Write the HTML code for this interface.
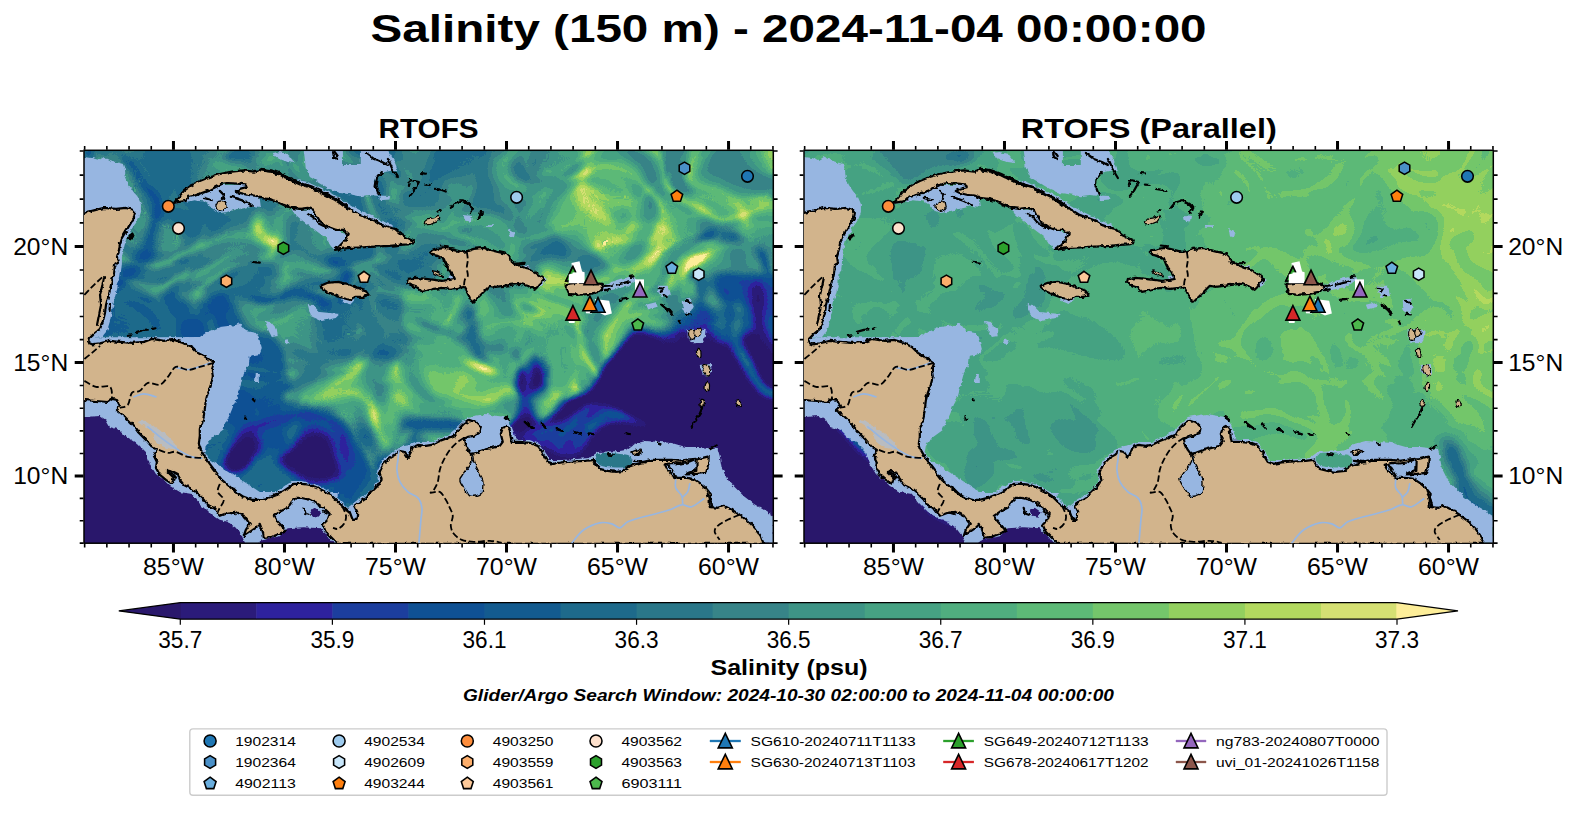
<!DOCTYPE html><html><head><meta charset="utf-8"><title>Salinity (150 m)</title>
<style>html,body{margin:0;padding:0;background:#fff}body{width:1577px;height:827px;overflow:hidden;font-family:"Liberation Sans",sans-serif}svg{display:block}text{font-family:"Liberation Sans",sans-serif;fill:#000}</style></head><body>
<svg width="1577" height="827" viewBox="0 0 1577 827">
<defs>
<clipPath id="cL"><rect x="84.0" y="150.3" width="689.3" height="392.9"/></clipPath>
<clipPath id="gtc"><path d="M560 255 L576 255 L581 272 L572 272.5 L568.4 274.6 L568.4 284 L560 284 Z"/></clipPath>
<clipPath id="cR"><rect x="804.0" y="150.3" width="689.3" height="392.9"/></clipPath>
<filter id="fL" filterUnits="userSpaceOnUse" x="24" y="90" width="810" height="514" color-interpolation-filters="sRGB"><feGaussianBlur in="SourceGraphic" stdDeviation="4" result="b"/><feTurbulence type="fractalNoise" baseFrequency="0.009 0.011" numOctaves="2" seed="7" result="n"/><feDisplacementMap in="b" in2="n" scale="70" xChannelSelector="R" yChannelSelector="G" result="d"/><feTurbulence type="turbulence" baseFrequency="0.014 0.018" numOctaves="2" seed="21" result="t"/><feDisplacementMap in="t" in2="n" scale="130" xChannelSelector="G" yChannelSelector="B" result="td"/><feGaussianBlur in="td" stdDeviation="1.0" result="tb0"/><feComponentTransfer in="tb0" result="tb"><feFuncR type="table" tableValues="0 0.1 0.2 0.3 0.38 0.43 0.45 0.45 0.45 0.45 0.45"/></feComponentTransfer><feColorMatrix in="tb" type="matrix" values="-0.962 0 0 0 0.992  -0.962 0 0 0 0.992  -0.962 0 0 0 0.992  0 0 0 0 1" result="ng"/><feComposite in="d" in2="ng" operator="arithmetic" k1="1.3" k2="0" k3="0" k4="0" result="s"/><feComponentTransfer><feFuncR type="discrete" tableValues="0.1647 0.1686 0.1804 0.1098 0.0588 0.0745 0.1176 0.1647 0.2157 0.2431 0.2745 0.3137 0.3647 0.4549 0.5765 0.7020 0.8353 0.9922"/><feFuncG type="discrete" tableValues="0.0941 0.1059 0.1333 0.2431 0.3176 0.3569 0.4157 0.4667 0.5176 0.5804 0.6353 0.6824 0.7294 0.7765 0.8157 0.8510 0.8784 0.9333"/><feFuncB type="discrete" tableValues="0.4235 0.4784 0.6157 0.6196 0.5804 0.5608 0.5451 0.5373 0.5333 0.5255 0.5137 0.4980 0.4667 0.4196 0.3725 0.3725 0.4510 0.6000"/></feComponentTransfer></filter>
<filter id="fR" filterUnits="userSpaceOnUse" x="744" y="90" width="810" height="514" color-interpolation-filters="sRGB"><feGaussianBlur in="SourceGraphic" stdDeviation="7" result="b"/><feTurbulence type="fractalNoise" baseFrequency="0.01 0.012" numOctaves="2" seed="4" result="n"/><feDisplacementMap in="b" in2="n" scale="50" xChannelSelector="R" yChannelSelector="G" result="d"/><feTurbulence type="turbulence" baseFrequency="0.016 0.02" numOctaves="2" seed="9" result="t"/><feDisplacementMap in="t" in2="n" scale="120" xChannelSelector="G" yChannelSelector="B" result="td"/><feGaussianBlur in="td" stdDeviation="1.0" result="tb"/><feColorMatrix in="tb" type="matrix" values="-0.2 0 0 0 0.872  -0.2 0 0 0 0.872  -0.2 0 0 0 0.872  0 0 0 0 1" result="ng"/><feComposite in="d" in2="ng" operator="arithmetic" k1="1.2" k2="0" k3="0" k4="0" result="s"/><feComponentTransfer><feFuncR type="discrete" tableValues="0.1647 0.1686 0.1804 0.1098 0.0588 0.0745 0.1176 0.1647 0.2157 0.2431 0.2745 0.3137 0.3647 0.4549 0.5765 0.7020 0.8353 0.9922"/><feFuncG type="discrete" tableValues="0.0941 0.1059 0.1333 0.2431 0.3176 0.3569 0.4157 0.4667 0.5176 0.5804 0.6353 0.6824 0.7294 0.7765 0.8157 0.8510 0.8784 0.9333"/><feFuncB type="discrete" tableValues="0.4235 0.4784 0.6157 0.6196 0.5804 0.5608 0.5451 0.5373 0.5333 0.5255 0.5137 0.4980 0.4667 0.4196 0.3725 0.3725 0.4510 0.6000"/></feComponentTransfer></filter>
<filter id="jag" x="-2%" y="-2%" width="104%" height="104%"><feTurbulence type="fractalNoise" baseFrequency="0.22" numOctaves="2" seed="3" result="t"/><feDisplacementMap in="SourceGraphic" in2="t" scale="4" xChannelSelector="R" yChannelSelector="G"/></filter>
<g id="shelf"><g fill="#97b6e1">
<path d="M80.0 157.0 L84.4 157.0 L92.0 158.0 L99.0 160.0 L104.0 157.0 L110.0 160.0 L116.0 162.0 L122.9 164.0 L124.9 170.0 L125.9 178.0 L128.9 185.0 L132.9 190.9 L137.9 196.9 L140.9 203.9 L140.9 211.9 L138.9 217.9 L135.9 222.9 L132.3 227.9 L128.9 233.9 L125.9 239.9 L123.9 247.9 L121.9 256.9 L121.9 263.9 L120.9 271.8 L119.9 271.0 L118.6 281.0 L116.6 291.0 L114.0 301.0 L112.0 310.9 L110.0 320.9 L107.0 330.9 L102.0 336.9 L80.0 336.9Z"/>
<path d="M80.0 337.3 L102.0 337.3 L159.9 337.3 L199.8 336.9 L205.8 332.9 L219.8 326.9 L235.8 324.9 L239.8 322.9 L245.8 330.9 L255.8 332.9 L258.8 336.9 L261.8 348.9 L259.8 353.9 L249.8 355.9 L248.8 364.9 L243.8 372.9 L241.8 380.9 L239.8 388.8 L237.8 396.8 L233.8 404.8 L229.8 414.8 L225.8 422.8 L222.8 429.9 L211.8 437.9 L205.8 445.9 L204.8 451.9 L206.6 455.9 L211.8 462.9 L217.8 470.9 L223.8 478.5 L230.6 484.5 L237.4 490.3 L245.0 495.3 L252.2 497.9 L259.8 497.5 L275.8 491.9 L291.7 480.9 L301.7 480.9 L317.7 484.9 L331.7 492.9 L339.7 499.8 L347.7 507.8 L357.6 499.8 L365.6 494.9 L373.6 487.9 L379.0 479.9 L377.0 470.9 L382.0 460.9 L395.0 449.9 L398.9 446.9 L409.9 444.9 L417.9 441.9 L431.8 441.9 L447.8 434.9 L457.8 426.9 L467.8 417.0 L485.8 414.0 L497.8 416.0 L505.8 417.0 L509.7 421.9 L513.7 431.9 L515.7 439.9 L529.7 439.9 L539.7 443.9 L545.7 453.9 L549.7 459.9 L561.7 459.9 L589.6 457.9 L625.0 479.9 L489.8 499.8 L409.9 519.8 L359.9 531.8 L345.7 519.8 L327.7 503.8 L299.7 490.9 L279.7 501.8 L259.8 507.8 L239.8 503.8 L219.8 491.9 L199.8 475.9 L183.9 459.9 L169.9 439.9 L139.9 410.0 L100.0 390.0 L80.0 380.0Z"/>
<path d="M587.8 459.9 L590.8 456.9 L597.8 451.9 L619.8 450.9 L625.8 449.9 L633.8 443.9 L645.8 440.9 L659.7 441.9 L671.7 442.9 L685.7 446.9 L699.7 446.9 L717.7 448.9 L719.7 455.9 L721.7 467.9 L727.7 479.9 L735.6 487.9 L743.6 495.9 L753.6 503.8 L763.6 509.8 L773.6 516.8 L773.6 543.8 L719.7 543.8 L659.7 479.9 L599.8 479.9Z"/>
<path d="M303.7 150.0 L342.9 150.0 L342.9 165.0 L360.8 165.0 L360.8 150.0 L387.8 150.0 L393.8 160.0 L397.8 170.0 L389.8 171.0 L379.8 173.0 L374.8 180.0 L375.8 187.9 L378.8 195.9 L369.8 194.9 L359.8 196.3 L349.9 194.3 L339.9 192.9 L329.9 188.9 L319.9 183.0 L309.9 177.0 L305.7 168.0 L304.7 158.0Z"/>
<path d="M272.8 153.0 L279.7 152.0 L287.7 154.0 L294.7 163.0 L287.7 162.0 L279.7 159.0 L274.8 157.0Z"/>
<path d="M173.9 203.9 L183.9 190.9 L188.9 197.9 L199.8 194.9 L219.8 185.0 L245.8 185.0 L259.8 198.9 L260.8 206.9 L251.8 205.9 L243.8 207.9 L233.8 209.9 L227.8 211.9 L219.8 212.9 L213.8 210.3 L209.8 204.9 L203.8 201.5 L193.9 200.3 L185.9 201.9Z"/>
<path d="M291.7 208.9 L313.7 209.9 L319.7 220.9 L335.7 229.9 L348.7 233.9 L339.7 245.9 L334.7 249.9 L330.7 245.9 L325.7 237.9 L317.7 231.9 L309.7 225.9 L301.7 219.9 L294.7 213.9Z"/>
<path d="M297.7 180.0 L307.7 182.0 L319.7 187.9 L331.7 192.9 L343.7 200.9 L355.6 207.9 L367.6 213.9 L379.6 219.9 L391.6 224.9 L395.0 229.9 L359.6 217.9 L319.7 195.9Z"/>
<path d="M264.8 320.9 L270.8 321.9 L276.8 328.9 L277.7 335.9 L271.8 336.9 L267.8 328.9Z"/>
<path d="M307.7 304.0 L312.7 304.9 L319.7 311.9 L339.7 313.9 L335.7 317.9 L321.7 320.9 L310.7 315.9Z"/>
<path d="M283.3 340.3 L287.7 339.3 L289.7 342.5 L285.7 344.3Z"/>
<path d="M255.8 373.9 L258.8 373.9 L258.8 382.9 L254.8 382.9Z"/>
<path d="M339.7 296.8 L354.7 298.8 L349.7 304.2 L343.3 302.2Z"/>
<path d="M600.8 285.8 L611.8 281.8 L623.8 278.2 L633.8 275.8 L636.2 279.8 L627.8 286.2 L615.8 289.2 L602.8 291.4Z"/>
<path d="M656.8 285.8 L667.7 285.8 L670.1 296.2 L661.7 297.2 L658.1 291.8Z"/>
<path d="M645.8 304.8 L655.8 302.2 L657.7 306.8 L647.8 309.4Z"/>
<path d="M681.7 300.8 L689.7 298.8 L692.7 307.8 L689.7 313.0 L683.3 311.8Z"/>
<path d="M508.9 228.9 L514.9 232.9 L513.9 237.3 L509.9 236.3Z"/>
<path d="M486.0 224.9 L493.0 225.3 L493.0 227.1 L486.0 226.7Z"/>
<path d="M464.0 214.9 L472.0 215.9 L471.0 221.5 L465.0 220.3Z"/>
<path d="M378.9 195.5 L389.9 195.9 L389.5 199.5 L379.9 200.3Z"/>
<path d="M463.8 215.9 L470.8 216.9 L469.8 221.5 L464.8 220.3Z"/>
<path d="M687.7 328.9 L705.7 329.9 L704.7 337.9 L701.7 342.9 L692.7 343.3 L687.7 336.9Z"/>
<path d="M699.7 364.9 L710.7 363.9 L712.1 372.9 L707.7 376.9 L702.7 373.9Z"/>
<path d="M685.7 313.9 L691.7 299.0 L683.7 300.0 L682.1 309.9Z"/>
<path d="M513.7 263.9 L529.7 266.2 L530.7 269.8 L517.7 267.4Z"/>
<path d="M539.7 275.8 L546.7 278.8 L542.7 285.8 L537.7 287.8Z"/>
<path d="M447.8 275.8 L454.8 275.8 L455.8 280.8 L449.8 281.4Z"/>
<path d="M665.7 462.9 L696.7 459.9 L696.7 473.9 L677.7 477.9 L669.7 473.9Z"/>
<path d="M80.0 417.0 L84.4 417.0 L100.0 416.0 L106.0 419.9 L110.0 426.9 L119.9 429.9 L127.9 437.9 L137.9 443.9 L145.9 451.9 L149.9 463.9 L155.9 473.9 L163.9 479.9 L169.9 485.9 L179.9 491.9 L191.9 493.9 L199.8 503.8 L207.8 511.8 L219.8 519.8 L227.8 521.8 L235.8 527.8 L241.8 535.8 L245.8 544.8 L337.7 544.8 L337.7 491.9 L259.8 491.9 L179.9 439.9 L119.9 396.0 L80.0 396.0Z"/>
</g>
<g fill="#2a186c"><path d="M255.8 544.8 L260.8 540.8 L266.8 538.8 L279.7 536.2 L287.7 528.2 L303.7 527.2 L319.7 528.2 L325.7 533.8 L334.7 544.8Z"/><path d="M309.7 510.8 L314.7 507.8 L320.7 511.8 L318.7 516.8 L311.7 515.8Z"/></g></g>
<g id="land"><g fill="#d2b48c" stroke="#000" stroke-width="2.2" stroke-linejoin="round">
<path d="M80.0 212.9 L84.0 212.9 L92.0 210.9 L104.0 207.9 L116.0 208.9 L125.9 207.9 L131.9 209.5 L134.9 212.9 L133.9 217.9 L130.9 222.9 L127.9 227.9 L124.9 232.9 L121.9 237.9 L119.9 243.9 L119.0 249.9 L117.0 256.9 L118.0 262.9 L115.0 265.0 L114.0 273.0 L112.0 281.0 L110.0 289.0 L108.0 297.0 L106.0 304.9 L105.0 312.9 L103.0 320.9 L100.0 328.9 L94.0 333.9 L89.0 338.9 L88.0 342.5 L92.0 344.3 L100.0 343.3 L110.0 340.9 L119.9 341.9 L131.9 342.9 L143.9 341.9 L151.9 338.9 L163.9 340.9 L173.9 339.9 L183.9 342.9 L191.9 346.9 L197.9 352.9 L203.8 355.9 L209.8 359.9 L213.8 362.9 L211.8 368.9 L212.8 376.9 L210.8 384.8 L207.8 392.8 L205.8 400.8 L204.8 408.8 L203.8 416.8 L201.8 424.8 L199.8 427.9 L199.8 435.9 L198.8 443.9 L200.8 449.9 L204.8 456.9 L209.8 463.9 L215.8 471.9 L221.8 479.9 L228.8 485.9 L235.8 491.9 L243.8 496.9 L251.8 499.8 L259.8 499.8 L267.8 497.9 L275.8 494.9 L283.7 490.9 L289.7 486.9 L293.7 483.9 L301.7 483.9 L309.7 484.9 L317.7 487.9 L325.7 491.9 L331.7 495.9 L337.7 501.8 L343.7 506.8 L349.7 511.8 L352.7 519.8 L356.6 519.8 L357.2 511.8 L354.1 505.8 L359.6 501.8 L365.6 497.9 L371.6 491.9 L377.6 485.9 L381.6 479.9 L379.6 471.9 L383.6 463.9 L389.6 457.9 L395.0 454.9 L398.9 450.9 L403.9 451.9 L407.9 457.9 L410.9 451.9 L412.9 446.9 L417.9 444.9 L425.9 445.9 L431.8 444.9 L439.8 440.9 L447.8 437.9 L455.8 434.9 L459.8 427.9 L463.8 423.9 L469.8 419.9 L475.8 421.9 L480.8 426.9 L479.8 431.9 L473.8 435.9 L467.8 436.9 L463.8 438.9 L464.8 443.9 L467.8 449.9 L470.8 453.9 L475.8 452.9 L483.8 449.9 L491.8 447.9 L499.8 445.9 L502.8 441.9 L500.8 433.9 L502.8 427.9 L506.8 425.9 L509.7 429.9 L510.7 436.9 L511.7 441.9 L519.7 441.9 L529.7 442.9 L537.7 445.9 L541.7 450.9 L544.7 456.9 L547.7 461.9 L553.7 463.9 L561.7 462.3 L573.7 461.5 L585.6 460.9 L593.6 459.9 L595.6 463.9 L599.6 468.9 L607.6 470.9 L615.6 471.9 L625.0 470.9 L623.8 469.9 L627.8 466.9 L633.8 464.9 L643.8 461.9 L651.8 459.9 L661.7 459.9 L671.7 459.9 L679.7 460.9 L687.7 459.5 L695.7 458.9 L687.7 462.3 L679.7 463.5 L671.7 462.9 L667.7 463.9 L664.7 464.9 L666.7 468.9 L671.7 474.9 L677.7 477.9 L685.7 477.9 L693.7 478.9 L699.7 482.9 L705.7 487.9 L710.7 493.9 L709.7 499.8 L709.7 506.8 L717.7 507.8 L723.7 505.8 L731.7 509.8 L739.6 514.8 L747.6 520.8 L755.6 528.8 L760.6 535.8 L763.6 543.8 L337.7 543.8 L336.7 542.8 L331.7 537.8 L325.7 531.8 L322.7 524.8 L327.7 519.8 L329.7 513.8 L323.7 507.8 L317.7 503.8 L309.7 499.8 L301.7 497.9 L295.7 497.9 L291.7 501.8 L287.7 507.8 L279.7 511.8 L273.8 515.8 L276.8 520.8 L281.7 525.8 L285.7 530.8 L279.7 533.8 L271.8 536.8 L263.8 537.8 L262.8 531.8 L259.8 523.8 L255.8 527.8 L249.8 531.8 L243.8 535.8 L245.8 529.8 L249.8 523.8 L243.8 515.8 L235.8 511.8 L227.8 512.8 L219.8 515.8 L213.8 507.8 L207.8 505.8 L203.8 499.8 L197.9 493.9 L191.9 488.9 L183.9 484.9 L179.9 479.9 L177.9 473.9 L169.9 469.9 L167.9 471.9 L173.9 477.9 L171.9 483.9 L165.9 479.9 L159.9 474.9 L155.9 467.9 L156.9 461.9 L153.9 455.9 L156.9 449.9 L151.9 446.9 L145.9 439.9 L137.9 431.9 L131.9 423.9 L123.9 416.0 L116.0 410.0 L119.9 406.0 L117.0 400.0 L112.0 399.0 L108.0 402.0 L96.0 401.0 L84.4 400.0 L80.0 400.0Z"/>
<path d="M173.9 202.9 L183.9 190.9 L191.9 185.0 L199.8 181.0 L209.8 177.0 L219.8 174.0 L231.8 171.6 L243.8 170.4 L253.8 171.6 L261.8 169.0 L271.8 171.0 L281.7 175.0 L289.7 179.0 L297.7 183.0 L305.7 185.0 L313.7 187.9 L321.7 192.9 L329.7 195.9 L337.7 200.9 L343.7 205.9 L351.7 209.9 L359.6 214.9 L367.6 217.9 L375.6 220.9 L381.6 224.9 L387.6 226.9 L395.0 228.9 L401.9 234.9 L409.9 238.9 L413.9 240.9 L412.9 243.5 L407.9 244.3 L399.9 244.9 L389.9 245.9 L379.9 246.3 L369.9 246.9 L359.9 247.5 L349.9 247.9 L342.0 248.9 L335.0 249.9 L339.7 245.9 L345.7 239.9 L348.7 233.9 L343.7 229.9 L335.7 229.9 L327.7 226.9 L319.7 220.9 L316.7 215.9 L313.7 209.9 L307.7 207.9 L299.7 208.9 L291.7 207.9 L283.7 204.9 L275.8 200.9 L267.8 198.9 L259.8 197.9 L255.8 195.9 L247.8 194.9 L239.8 192.9 L235.8 190.9 L239.8 188.9 L246.8 187.0 L245.8 184.4 L237.8 183.6 L227.8 183.0 L221.8 184.0 L215.8 187.0 L207.8 190.9 L199.8 193.9 L193.9 195.9 L188.9 196.9 L185.9 200.9 L179.9 201.9Z"/>
<path d="M429.8 251.9 L437.8 248.9 L445.8 247.9 L453.8 249.9 L461.8 251.9 L467.8 250.9 L473.8 248.9 L483.8 247.9 L489.8 249.9 L497.8 251.9 L506.8 253.9 L509.7 256.9 L510.7 261.9 L517.7 264.9 L524.7 267.8 L529.7 268.8 L535.7 272.8 L541.7 276.8 L543.7 280.8 L539.7 283.8 L536.7 287.8 L534.7 289.8 L527.7 285.8 L519.7 283.8 L511.7 284.8 L503.8 285.8 L495.8 286.8 L489.8 285.8 L485.8 289.8 L481.8 293.8 L476.8 298.8 L472.8 302.8 L469.8 297.8 L466.8 291.8 L463.8 286.8 L457.8 287.8 L449.8 288.8 L441.8 287.8 L433.8 288.8 L426.9 290.8 L421.9 291.8 L417.9 287.8 L411.9 285.8 L406.9 282.8 L407.9 278.8 L415.9 277.8 L425.9 278.8 L433.8 279.8 L441.8 280.8 L449.8 279.8 L454.8 278.8 L452.8 274.8 L448.8 269.8 L445.8 263.9 L443.8 258.9 L437.8 255.9 L432.8 254.9Z"/>
<path d="M320.7 285.8 L327.7 282.8 L337.7 281.8 L347.7 283.8 L357.6 287.8 L365.6 290.8 L368.6 294.8 L363.6 296.8 L355.6 296.8 L349.7 299.8 L341.7 297.8 L333.7 294.8 L326.7 291.8 L321.7 288.8Z"/>
<path d="M566.7 283.8 L575.7 282.8 L589.6 282.8 L601.6 283.8 L603.6 287.8 L599.6 291.8 L589.6 293.8 L577.7 294.8 L568.7 293.8 L566.7 288.8Z"/>
<path d="M696.7 459.5 L708.7 456.5 L708.3 464.9 L706.1 472.9 L696.7 473.9 L685.7 474.3 L689.7 472.3 L696.3 470.9Z"/>
</g>
<g fill="#d2b48c" stroke="#000" stroke-width="1.2" stroke-linejoin="round">
<path d="M215.8 205.9 L217.8 201.9 L221.8 200.9 L225.4 202.9 L226.2 206.9 L223.8 210.3 L219.8 211.5 L216.8 209.5Z"/>
<path d="M432.8 270.8 L435.8 271.4 L442.8 274.8 L443.4 276.8 L439.8 276.2 L433.8 273.4Z"/>
<path d="M424.3 221.9 L427.9 218.9 L433.8 217.9 L438.8 214.9 L439.8 217.9 L436.8 221.9 L430.8 224.3 L425.5 224.9Z"/>
<path d="M631.8 451.9 L636.8 449.9 L640.8 448.9 L642.8 451.9 L638.8 454.3 L633.8 455.5Z"/>
<ellipse cx="691.7" cy="334.9" rx="3.0" ry="5.5" transform="rotate(-10 691.7 334.9)"/>
<ellipse cx="697.3" cy="332.5" rx="3.5" ry="4.0" transform="rotate(20 697.3 332.5)"/>
<ellipse cx="698.7" cy="352.9" rx="2.2" ry="4.5" transform="rotate(-8 698.7 352.9)"/>
<ellipse cx="706.7" cy="370.3" rx="3.5" ry="6.0" transform="rotate(-20 706.7 370.3)"/>
<ellipse cx="707.3" cy="386.8" rx="2.2" ry="4.5" transform="rotate(5 707.3 386.8)"/>
<ellipse cx="702.1" cy="402.8" rx="2.2" ry="3.5" transform="rotate(10 702.1 402.8)"/>
<ellipse cx="738.6" cy="403.2" rx="2.4" ry="3.6" transform="rotate(-20 738.6 403.2)"/>
</g>
<g fill="#97b6e1" stroke="#000" stroke-width="1.3">
<path d="M470.8 454.9 C470.6 455.6 472.0 458.2 471.8 459.9 C471.6 461.6 470.8 463.2 469.8 464.9 C468.8 466.6 467.1 468.1 465.8 469.9 C464.5 471.7 462.8 474.2 461.8 475.9 C460.8 477.6 459.6 478.2 459.8 479.9 C460.0 481.6 461.6 483.9 462.8 485.9 C464.0 487.9 465.6 490.2 466.8 491.9 C468.0 493.6 468.3 495.2 469.8 495.9 C471.3 496.6 473.8 496.4 475.8 495.9 C477.8 495.4 480.6 494.6 481.8 492.9 C483.0 491.2 482.6 488.1 482.8 485.9 C483.0 483.7 483.3 481.9 482.8 479.9 C482.3 477.9 480.8 475.9 479.8 473.9 C478.8 471.9 477.8 469.9 476.8 467.9 C475.8 465.9 474.5 463.9 473.8 461.9 C473.1 459.9 473.3 457.1 472.8 455.9 C472.3 454.7 471.0 454.2 470.8 454.9Z"/>
</g>
<path d="M138.3 421.5 C138.0 420.3 141.6 419.3 143.9 419.9 C146.2 420.5 148.6 422.7 151.9 424.9 C155.2 427.1 160.2 430.1 163.9 432.9 C167.6 435.7 171.7 439.5 173.9 441.9 C176.1 444.3 177.4 446.3 176.9 447.5 C176.4 448.7 173.4 449.2 170.9 448.9 C168.4 448.6 164.6 447.4 161.9 445.9 C159.2 444.4 156.4 442.2 154.9 439.9 C153.4 437.6 154.4 434.1 152.9 431.9 C151.4 429.7 148.3 428.6 145.9 426.9 C143.5 425.2 138.6 422.7 138.3 421.5Z" fill="#b9bcc0"/>
<g fill="none" stroke="#000" stroke-width="2.2" stroke-linecap="round" stroke-linejoin="round">
<path d="M365.9 153.0 L373.9 159.0 L381.9 162.0 L387.9 165.0"/>
<path d="M387.9 159.0 L391.9 168.0 L397.9 178.0"/>
<path d="M381.9 172.0 L376.9 178.0 L375.5 186.0 L378.9 194.9"/>
<path d="M409.9 180.0 L418.9 182.0 L413.9 190.9 L409.9 195.9"/>
<path d="M409.9 180.0 L408.9 186.0"/>
<path d="M435.8 188.9 L441.8 189.9 L445.8 191.5"/>
<path d="M420.9 173.0 L425.9 173.6"/>
<path d="M424.9 184.6 L429.8 185.0"/>
<path d="M450.8 207.9 L454.8 202.9 L462.8 200.3 L469.8 203.9 L473.4 207.9 L469.8 212.9"/>
<path d="M478.8 217.9 L481.8 211.9 L481.4 214.9"/>
<path d="M437.8 211.5 L440.8 210.3"/>
<path d="M333.0 152.0 L334.0 157.0 L337.0 159.0"/>
<path d="M334.7 152.0 L337.7 156.0"/>
<path d="M461.0 200.3 L466.0 202.9 L472.0 206.3 L472.4 210.3"/>
<path d="M481.0 211.5 L480.0 214.9"/>
<path d="M440.8 245.5 L447.8 246.3"/>
<path d="M514.1 263.9 L524.7 262.9"/>
<path d="M604.8 285.8 L611.8 285.4"/>
<path d="M615.8 284.8 L629.8 281.4"/>
<path d="M630.8 276.8 L633.8 276.4"/>
<path d="M619.8 299.8 L626.8 298.8"/>
<path d="M604.8 290.2 L609.8 289.4"/>
<path d="M657.7 287.8 L662.7 288.8 L660.7 291.8"/>
<path d="M663.7 294.8 L666.7 296.8"/>
<path d="M661.7 304.8 L667.7 308.8 L671.7 313.0"/>
<path d="M686.7 300.8 L689.7 302.8"/>
<path d="M661.7 304.9 L667.7 309.9 L671.7 314.9"/>
<path d="M678.7 320.9 L680.1 323.9"/>
<path d="M686.7 313.9 L690.7 314.5"/>
<path d="M685.7 301.0 L689.7 302.0"/>
<path d="M702.1 407.8 L699.7 413.8 L695.7 419.8 L691.7 426.8"/>
<path d="M505.5 417.0 L508.9 419.9"/>
<path d="M524.9 421.9 L529.9 426.9 L533.5 428.9"/>
<path d="M541.9 424.3 L545.5 427.9"/>
<path d="M557.5 429.5 L562.9 430.9"/>
<path d="M574.3 432.3 L581.8 434.3"/>
<path d="M589.8 433.5 L593.4 434.3"/>
<path d="M625.4 433.1 L629.8 434.3"/>
<path d="M607.8 454.3 L612.8 455.1"/>
<path d="M710.7 448.9 L716.7 445.5"/>
<path d="M657.7 443.5 L659.7 444.3"/>
<path d="M136.9 331.9 L143.9 329.9 L148.9 329.3"/>
<path d="M152.9 328.9 L155.5 328.3"/>
<path d="M127.9 335.9 L130.9 335.3"/>
<path d="M252.8 261.9 L259.8 262.7"/>
<path d="M252.8 399.2 L253.8 400.4"/>
<path d="M245.4 417.2 L246.2 418.8"/>
<path d="M128.9 237.9 L132.3 233.5 L133.5 235.9 L129.9 239.5"/>
<path d="M104.0 277.0 L102.4 285.0 L100.0 295.0 L101.0 304.9 L99.0 314.9 L97.0 324.9"/>
<path d="M110.0 304.0 L109.6 309.9"/>
<path d="M303.7 507.8 L305.7 513.8 L308.7 514.8"/>
<path d="M322.7 510.8 L326.7 513.4"/>
<path d="M233.8 488.9 L239.8 494.9 L242.8 497.9"/>
<path d="M167.9 470.9 L172.9 473.9 L175.9 477.5"/>
<path d="M207.8 504.8 L212.8 507.8"/>
<path d="M229.8 512.8 L234.8 514.2"/>
<path d="M307.7 213.9 L312.7 216.9 L317.7 222.9 L325.7 226.9"/>
<path d="M219.8 190.9 L223.8 194.9 L222.8 198.9"/>
<path d="M231.8 196.9 L243.8 200.9 L251.8 204.9"/>
<path d="M203.8 197.9 L211.8 200.3"/>
<path d="M524.7 421.9 L531.7 426.9 L533.7 428.9"/>
<path d="M541.7 422.9 L545.7 427.9"/>
<path d="M504.8 417.0 L508.7 419.9"/>
<path d="M557.7 428.9 L562.7 430.9"/>
<path d="M574.7 432.3 L581.7 434.3"/>
<path d="M589.6 433.5 L593.2 434.3"/>
<path d="M607.6 453.9 L612.6 454.9"/>
<path d="M667.7 463.9 L671.7 469.9 L675.7 475.9"/>
<path d="M706.7 491.9 L710.7 499.8 L712.1 505.8"/>
<path d="M633.8 460.9 L645.8 462.3"/>
<path d="M635.8 454.9 L640.8 450.9"/>
</g>
<path d="M260.8 169.6 L271.8 171.2 L281.7 174.8 L289.7 178.8 L299.7 183.6 L311.7 187.2 L323.7 193.5 L335.7 199.5 L347.7 207.5" fill="none" stroke="#000" stroke-width="3.6" stroke-linecap="round" stroke-dasharray="9 1.5 5 1"/></g>
<g id="ovl"><g fill="none" stroke="#97b6e1" stroke-width="1.7" stroke-linecap="round" stroke-linejoin="round">
<path d="M398.9 450.9 C398.7 452.4 398.2 456.7 397.9 459.9 C397.6 463.1 396.6 466.2 396.9 469.9 C397.2 473.6 398.1 478.2 399.9 481.9 C401.7 485.6 404.9 489.2 407.9 491.9 C410.9 494.6 415.6 495.2 417.9 497.9 C420.2 500.5 421.4 504.2 421.9 507.8 C422.4 511.4 421.2 515.8 420.9 519.8 C420.6 523.8 420.2 528.0 419.9 531.8 C419.6 535.6 419.1 541.0 418.9 542.8"/>
<path d="M571.9 542.8 C573.9 540.6 579.1 533.1 583.8 529.8 C588.4 526.5 595.1 523.8 599.8 522.8 C604.5 521.8 608.5 523.0 611.8 523.8 C615.1 524.6 617.1 528.1 619.8 527.8 C622.5 527.5 624.5 523.5 627.8 521.8 C631.1 520.1 635.1 519.1 639.8 517.8 C644.5 516.5 650.8 515.1 655.8 513.8 C660.8 512.5 665.4 511.3 669.7 509.8 C674.0 508.3 678.0 505.3 681.7 504.8 C685.4 504.3 688.0 507.8 691.7 506.8 C695.4 505.8 701.7 500.1 703.7 498.8"/>
<path d="M675.7 479.9 C675.7 481.2 674.7 485.2 675.7 487.9 C676.7 490.6 680.5 493.2 681.7 495.9 C682.9 498.5 682.5 502.5 682.7 503.8"/>
<path d="M689.7 483.9 C689.4 485.2 688.9 489.7 687.7 491.9 C686.5 494.1 683.5 496.1 682.7 496.9"/>
<path d="M209.8 362.9 C208.1 363.5 203.5 365.4 199.8 366.5 C196.2 367.6 191.9 369.4 187.9 369.5 C183.9 369.6 177.9 367.7 175.9 367.3"/>
<path d="M133.9 396.8 C135.6 396.3 140.2 393.8 143.9 393.8 C147.6 393.8 153.9 396.3 155.9 396.8"/>
<path d="M147.9 426.9 C150.6 429.1 158.6 435.9 163.9 439.9 C169.2 443.9 175.2 448.1 179.9 450.9 C184.6 453.7 188.2 455.7 191.9 456.9 C195.6 458.1 200.2 458.1 201.8 458.3"/>
</g>
<g fill="none" stroke="#000" stroke-width="1.8" stroke-dasharray="6.5 2.8">
<path d="M84.4 295.0 C85.3 294.0 88.1 291.0 90.0 289.0 C91.9 287.0 94.0 284.9 96.0 283.0 C98.0 281.1 101.0 278.3 102.0 277.4"/>
<path d="M84.4 358.9 C85.7 357.9 89.4 355.1 92.0 352.9 C94.6 350.7 98.7 347.1 100.0 345.9"/>
<path d="M213.8 362.9 C211.5 363.6 204.1 365.7 199.8 366.9 C195.5 368.1 191.9 369.9 187.9 369.9 C183.9 369.9 179.2 365.7 175.9 366.9 C172.6 368.1 170.6 373.9 167.9 376.9 C165.2 379.9 163.2 383.8 159.9 384.8 C156.6 385.8 151.2 381.9 147.9 382.9 C144.6 383.9 142.6 389.1 139.9 390.8 C137.2 392.5 133.9 390.5 131.9 392.8 C129.9 395.1 129.9 402.3 127.9 404.8 C125.9 407.3 121.2 407.3 119.9 407.8"/>
<path d="M84.4 380.9 C86.3 381.9 91.7 385.8 96.0 386.8 C100.3 387.8 107.3 384.8 110.0 386.8 C112.7 388.8 111.7 396.8 112.0 398.8"/>
<path d="M158.9 449.9 C160.4 450.4 165.1 452.6 167.9 452.9 C170.7 453.2 172.6 451.2 175.9 451.9 C179.2 452.6 183.6 455.9 187.9 456.9 C192.2 457.9 199.5 457.7 201.8 457.9"/>
<path d="M219.8 483.9 C219.5 485.2 217.1 489.2 217.8 491.9 C218.5 494.5 223.5 497.1 223.8 499.8 C224.1 502.5 220.8 505.8 219.8 507.8 C218.8 509.8 218.1 511.1 217.8 511.8"/>
<path d="M342.0 505.8 C342.7 507.5 345.7 512.8 346.0 515.8 C346.3 518.8 345.3 521.6 344.0 523.8 C342.7 526.0 339.8 528.1 338.0 528.8 C336.2 529.5 333.8 528.0 333.0 527.8"/>
<path d="M463.8 437.9 C462.8 438.6 460.1 439.9 457.8 441.9 C455.5 443.9 452.1 446.9 449.8 449.9 C447.5 452.9 445.5 456.6 443.8 459.9 C442.1 463.2 440.8 466.2 439.8 469.9 C438.8 473.6 438.8 478.6 437.8 481.9 C436.8 485.2 435.0 488.1 433.8 489.9 C432.6 491.7 429.8 492.6 430.8 492.9 C431.8 493.2 437.3 490.8 439.8 491.9 C442.3 493.0 444.1 497.1 445.8 499.8 C447.5 502.5 448.6 505.1 449.8 507.8 C451.0 510.5 452.6 512.8 452.8 515.8 C453.0 518.8 450.6 522.8 450.8 525.8 C451.0 528.8 452.0 531.5 453.8 533.8 C455.6 536.1 458.5 538.5 461.8 539.8 C465.1 541.1 469.1 541.6 473.8 541.8 C478.5 542.0 485.1 540.6 489.8 540.8 C494.5 541.0 499.8 542.5 501.8 542.8"/>
<path d="M466.8 251.9 C467.0 253.2 467.8 257.2 467.8 259.9 C467.8 262.5 466.8 265.1 466.8 267.8 C466.8 270.5 468.1 273.8 467.8 275.8 C467.5 277.8 465.5 277.8 464.8 279.8 C464.1 281.8 464.0 286.5 463.8 287.8"/>
<path d="M739.6 514.8 C737.6 515.6 731.4 518.0 727.7 519.8 C724.1 521.6 719.9 523.8 717.7 525.8 C715.5 527.8 714.4 529.5 714.7 531.8 C715.0 534.1 718.9 538.5 719.7 539.8"/>
</g></g>
</defs>
<g clip-path="url(#cL)"><g filter="url(#fL)"><rect x="0" y="60" width="900" height="600" fill="rgb(120,120,120)"/>
<path d="M60.0 140.0 C93.3 113.3 220.0 135.0 260.0 140.0 C300.0 145.0 301.7 157.5 300.0 170.0 C298.3 182.5 271.7 207.5 250.0 215.0 C228.3 222.5 188.3 207.5 170.0 215.0 C151.7 222.5 158.3 245.8 140.0 260.0 C121.7 274.2 73.3 320.0 60.0 300.0 C46.7 280.0 26.7 166.7 60.0 140.0Z" fill="rgb(116,116,116)"/>
<path d="M90.0 250.0 C107.5 232.5 160.0 238.0 200.0 240.0 C240.0 242.0 305.8 252.0 330.0 262.0 C354.2 272.0 345.0 286.2 345.0 300.0 C345.0 313.8 344.2 334.2 330.0 345.0 C315.8 355.8 279.2 364.2 260.0 365.0 C240.8 365.8 233.3 355.0 215.0 350.0 C196.7 345.0 170.0 335.8 150.0 335.0 C130.0 334.2 105.0 359.2 95.0 345.0 C85.0 330.8 72.5 267.5 90.0 250.0Z" fill="rgb(127,127,127)"/>
<path d="M200.0 345.0 C213.0 332.5 254.2 338.3 268.0 345.0 C281.8 351.7 277.7 372.8 283.0 385.0 C288.3 397.2 283.8 408.8 300.0 418.0 C316.2 427.2 358.7 434.7 380.0 440.0 C401.3 445.3 424.7 440.0 428.0 450.0 C431.3 460.0 421.3 488.3 400.0 500.0 C378.7 511.7 333.3 520.0 300.0 520.0 C266.7 520.0 218.3 516.7 200.0 500.0 C181.7 483.3 190.0 445.8 190.0 420.0 C190.0 394.2 187.0 357.5 200.0 345.0Z" fill="rgb(74,74,74)"/>
<path d="M275.0 335.0 C282.5 328.3 309.2 328.3 330.0 330.0 C350.8 331.7 384.2 334.2 400.0 345.0 C415.8 355.8 423.3 380.8 425.0 395.0 C426.7 409.2 425.8 425.8 410.0 430.0 C394.2 434.2 348.3 425.0 330.0 420.0 C311.7 415.0 307.5 408.3 300.0 400.0 C292.5 391.7 289.2 380.8 285.0 370.0 C280.8 359.2 267.5 341.7 275.0 335.0Z" fill="rgb(135,135,135)"/>
<path d="M385.0 290.0 C408.3 278.3 444.2 278.3 480.0 280.0 C515.8 281.7 573.3 291.7 600.0 300.0 C626.7 308.3 640.0 316.7 640.0 330.0 C640.0 343.3 616.7 368.3 600.0 380.0 C583.3 391.7 561.7 389.2 540.0 400.0 C518.3 410.8 493.3 438.3 470.0 445.0 C446.7 451.7 415.0 447.5 400.0 440.0 C385.0 432.5 390.0 415.0 380.0 400.0 C370.0 385.0 339.2 368.3 340.0 350.0 C340.8 331.7 361.7 301.7 385.0 290.0Z" fill="rgb(144,144,144)"/>
<path d="M325.0 295.0 C338.7 286.7 384.2 284.2 400.0 290.0 C415.8 295.8 420.0 315.0 420.0 330.0 C420.0 345.0 413.3 370.8 400.0 380.0 C386.7 389.2 353.7 391.7 340.0 385.0 C326.3 378.3 320.5 355.0 318.0 340.0 C315.5 325.0 311.3 303.3 325.0 295.0Z" fill="rgb(99,99,99)"/>
<path d="M548.0 258.0 C571.0 250.7 656.0 249.0 680.0 256.0 C704.0 263.0 696.2 285.5 692.0 300.0 C687.8 314.5 676.2 335.5 655.0 343.0 C633.8 350.5 583.8 352.2 565.0 345.0 C546.2 337.8 544.8 314.5 542.0 300.0 C539.2 285.5 525.0 265.3 548.0 258.0Z" fill="rgb(184,184,184)"/>
<ellipse cx="628.0" cy="318.0" rx="27.0" ry="13.0" fill="rgb(215,215,215)" transform="rotate(-15 628.0 318.0)"/>
<ellipse cx="641.0" cy="311.0" rx="12.0" ry="7.0" fill="rgb(255,255,255)" transform="rotate(-20 641.0 311.0)"/>
<path d="M560.0 140.0 C600.0 130.0 751.7 121.7 790.0 140.0 C828.3 158.3 795.0 223.3 790.0 250.0 C785.0 276.7 775.0 288.3 760.0 300.0 C745.0 311.7 720.0 315.0 700.0 320.0 C680.0 325.0 658.3 331.7 640.0 330.0 C621.7 328.3 600.8 323.3 590.0 310.0 C579.2 296.7 581.7 268.3 575.0 250.0 C568.3 231.7 552.5 218.3 550.0 200.0 C547.5 181.7 520.0 150.0 560.0 140.0Z" fill="rgb(159,159,159)"/>
<path d="M400.0 140.0 C426.7 127.5 533.3 125.0 560.0 140.0 C586.7 155.0 566.7 209.7 560.0 230.0 C553.3 250.3 541.7 257.8 520.0 262.0 C498.3 266.2 450.0 262.8 430.0 255.0 C410.0 247.2 405.0 234.2 400.0 215.0 C395.0 195.8 373.3 152.5 400.0 140.0Z" fill="rgb(127,127,127)"/>
<path d="M0.1 400.0 C14.2 373.3 64.4 399.3 84.4 400.0 C104.4 400.6 108.7 396.3 119.9 404.0 C131.2 411.6 141.9 434.3 151.9 445.9 C161.9 457.6 170.6 464.9 179.9 473.9 C189.2 482.9 197.2 492.9 207.8 499.8 C218.5 506.8 231.8 512.5 243.8 515.8 C255.8 519.2 270.4 522.5 279.7 519.8 C289.1 517.2 291.4 500.5 299.7 499.8 C308.0 499.2 323.4 505.8 329.7 515.8 C336.0 525.8 392.6 552.4 337.7 559.8 C282.7 567.1 56.4 586.4 0.1 559.8 C-56.2 533.1 -13.9 426.6 0.1 400.0Z" fill="rgb(0,0,0)"/>
<path d="M100.0 290.0 C112.0 280.2 150.8 284.3 170.0 286.0 C189.2 287.7 203.7 293.0 215.0 300.0 C226.3 307.0 238.0 320.3 238.0 328.0 C238.0 335.7 229.7 344.0 215.0 346.0 C200.3 348.0 169.5 340.2 150.0 340.0 C130.5 339.8 106.3 353.3 98.0 345.0 C89.7 336.7 88.0 299.8 100.0 290.0Z" fill="rgb(78,78,78)"/>
<path d="M513.9 430.0 C514.6 405.4 516.6 421.7 517.9 416.8 C519.3 411.9 520.6 406.2 521.9 400.8 C523.3 395.5 524.9 390.2 525.9 384.8 C526.9 379.5 526.2 373.2 527.9 368.9 C529.6 364.5 532.9 359.5 535.9 358.9 C538.9 358.2 542.6 361.9 545.9 364.9 C549.2 367.9 552.9 372.9 555.9 376.9 C558.9 380.9 561.2 386.2 563.9 388.8 C566.5 391.5 569.2 392.8 571.9 392.8 C574.5 392.8 576.9 391.5 579.8 388.8 C582.8 386.2 586.8 380.9 589.8 376.9 C592.8 372.9 595.5 367.9 597.8 364.9 C600.2 361.8 600.2 359.9 603.8 358.5 C607.5 357.1 613.8 357.5 619.8 356.5 C625.8 355.5 633.1 354.0 639.8 352.5 C646.4 351.0 654.4 349.6 659.7 347.3 C665.1 345.0 668.4 341.6 671.7 338.5 C675.1 335.4 676.7 330.9 679.7 328.5 C682.7 326.1 684.7 324.5 689.7 323.9 C694.7 323.3 703.7 323.8 709.7 324.9 C715.7 326.1 720.0 329.9 725.7 330.9 C731.3 331.9 738.0 331.9 743.6 330.9 C749.3 329.9 752.0 325.9 759.6 324.9 C767.3 323.9 784.6 285.0 789.6 324.9 C794.6 364.9 835.5 524.7 789.6 564.6 C743.6 604.6 559.9 587.1 513.9 564.6 C468.0 542.2 513.3 454.6 513.9 430.0Z" fill="rgb(0,0,0)"/>
<path d="M500.0 450.0 C493.8 441.3 501.5 422.0 503.0 410.0 C504.5 398.0 506.5 386.7 509.0 378.0 C511.5 369.3 513.7 359.0 518.0 358.0 C522.3 357.0 533.8 365.8 535.0 372.0 C536.2 378.2 527.3 387.5 525.0 395.0 C522.7 402.5 519.3 410.8 521.0 417.0 C522.7 423.2 526.8 430.7 535.0 432.0 C543.2 433.3 560.8 431.2 570.0 425.0 C579.2 418.8 585.0 403.3 590.0 395.0 C595.0 386.7 595.0 377.5 600.0 375.0 C605.0 372.5 620.0 367.5 620.0 380.0 C620.0 392.5 613.3 436.3 600.0 450.0 C586.7 463.7 556.7 462.0 540.0 462.0 C523.3 462.0 506.2 458.7 500.0 450.0Z" fill="rgb(0,0,0)"/>
<path d="M519.9 404.8 C521.1 398.8 524.1 377.0 526.9 368.9 C529.7 360.7 533.4 356.9 536.9 355.9 C540.4 354.9 544.1 359.0 547.9 362.9 C551.7 366.7 555.9 374.4 559.9 378.9 C563.9 383.3 568.5 388.8 571.9 389.8 C575.2 390.8 577.2 387.3 579.8 384.8 C582.5 382.4 584.8 378.7 587.8 374.9 C590.8 371.0 594.8 365.1 597.8 361.9 C600.8 358.6 598.8 357.4 605.8 355.3 C612.8 353.2 630.8 351.1 639.8 349.3 C648.8 347.5 653.4 348.2 659.7 344.5 C666.1 340.8 669.4 330.7 677.7 326.9 C686.0 323.2 704.4 322.8 709.7 321.9" fill="none" stroke="rgb(57,57,57)" stroke-width="7.0" stroke-linecap="round" stroke-linejoin="round"/>
<path d="M717.7 289.0 C721.3 283.6 730.1 285.0 739.6 283.0 C749.2 281.0 766.7 273.3 775.0 277.0 C783.3 280.6 787.2 293.0 789.6 304.9 C792.0 316.9 792.0 342.2 789.6 348.9 C787.2 355.6 780.0 347.9 775.0 344.9 C770.0 341.9 765.5 333.6 759.6 330.9 C753.7 328.3 745.3 328.9 739.6 328.9 C734.0 328.9 729.3 333.2 725.7 330.9 C722.0 328.6 719.0 321.9 717.7 314.9 C716.3 307.9 714.0 294.3 717.7 289.0Z" fill="rgb(64,64,64)"/>
<path d="M725.7 289.0 C727.3 293.6 733.3 306.9 735.6 316.9 C738.0 326.9 737.6 337.6 739.6 348.9 C741.6 360.2 744.3 376.2 747.6 384.8 C751.0 393.5 754.3 397.8 759.6 400.8 C764.9 403.8 776.3 402.5 779.6 402.8" fill="none" stroke="rgb(57,57,57)" stroke-width="16.0" stroke-linecap="round" stroke-linejoin="round"/>
<path d="M728.7 293.0 C730.0 297.0 734.5 307.6 736.6 316.9 C738.8 326.3 739.5 337.9 741.6 348.9 C743.8 359.9 746.5 374.6 749.6 382.9 C752.8 391.1 755.6 395.6 760.6 398.4 C765.6 401.3 776.4 399.6 779.6 399.8" fill="none" stroke="rgb(120,120,120)" stroke-width="5.0" stroke-linecap="round" stroke-linejoin="round"/>
<path d="M749.6 295.0 C752.0 298.6 760.0 309.3 763.6 316.9 C767.3 324.6 768.9 332.9 771.6 340.9 C774.3 348.9 778.3 360.9 779.6 364.9" fill="none" stroke="rgb(14,14,14)" stroke-width="14.0" stroke-linecap="round" stroke-linejoin="round"/>
<path d="M697.7 289.0 C699.0 290.6 705.4 294.6 705.7 299.0 C706.0 303.3 700.7 312.3 699.7 314.9" fill="none" stroke="rgb(78,78,78)" stroke-width="12.0" stroke-linecap="round" stroke-linejoin="round"/>
<path d="M529.7 386.8 C531.6 384.2 535.4 382.5 539.7 380.9 C544.0 379.2 551.0 376.2 555.7 376.9 C560.3 377.5 566.7 380.9 567.7 384.8 C568.7 388.8 564.3 396.2 561.7 400.8 C559.0 405.5 555.4 409.8 551.7 412.8 C548.0 415.8 543.2 419.5 539.7 418.8 C536.2 418.1 532.6 412.5 530.7 408.8 C528.9 405.2 528.9 400.5 528.7 396.8 C528.6 393.2 527.9 389.5 529.7 386.8Z" fill="rgb(135,135,135)"/>
<ellipse cx="545.7" cy="400.8" rx="9.0" ry="14.0" fill="rgb(191,191,191)" transform="rotate(30 545.7 400.8)"/>
<path d="M519.9 425.9 C520.6 429.9 535.2 440.6 543.9 445.9 C552.5 451.2 562.5 457.9 571.9 457.9 C581.2 457.9 589.8 449.6 599.8 445.9 C609.8 442.3 625.1 438.9 631.8 435.9 C638.4 432.9 643.1 430.6 639.8 427.9 C636.4 425.3 621.1 421.9 611.8 419.9 C602.5 418.0 592.5 415.0 583.8 416.0 C575.2 417.0 567.2 424.9 559.9 425.9 C552.5 426.9 546.6 421.9 539.9 421.9 C533.2 421.9 519.3 421.9 519.9 425.9Z" fill="rgb(50,50,50)"/>
<path d="M583.8 445.9 C587.2 443.3 596.8 432.9 603.8 429.9 C610.8 426.9 622.1 428.3 625.8 427.9" fill="none" stroke="rgb(92,92,92)" stroke-width="8.0" stroke-linecap="round" stroke-linejoin="round"/>
<ellipse cx="244.0" cy="454.0" rx="17.0" ry="20.0" fill="rgb(0,0,0)"/>
<ellipse cx="311.0" cy="458.0" rx="27.0" ry="16.0" fill="rgb(0,0,0)" transform="rotate(10 311.0 458.0)"/>
<path d="M230.0 440.0 C233.3 438.0 240.0 430.3 250.0 428.0 C260.0 425.7 276.7 425.0 290.0 426.0 C303.3 427.0 320.3 429.7 330.0 434.0 C339.7 438.3 345.0 449.0 348.0 452.0" fill="none" stroke="rgb(28,28,28)" stroke-width="8.0" stroke-linecap="round" stroke-linejoin="round"/>
<path d="M272.0 470.0 C273.3 465.8 276.7 451.3 280.0 445.0 C283.3 438.7 290.0 434.2 292.0 432.0" fill="none" stroke="rgb(85,85,85)" stroke-width="5.0" stroke-linecap="round" stroke-linejoin="round"/>
<path d="M270.0 395.0 C275.0 390.0 310.0 385.0 330.0 385.0 C350.0 385.0 376.7 387.5 390.0 395.0 C403.3 402.5 411.7 420.0 410.0 430.0 C408.3 440.0 390.0 455.8 380.0 455.0 C370.0 454.2 363.3 431.7 350.0 425.0 C336.7 418.3 313.3 420.0 300.0 415.0 C286.7 410.0 265.0 400.0 270.0 395.0Z" fill="rgb(163,163,163)"/>
<ellipse cx="372.0" cy="430.0" rx="14.0" ry="9.0" fill="rgb(212,212,212)" transform="rotate(40 372.0 430.0)"/>
<ellipse cx="398.0" cy="447.0" rx="8.0" ry="6.0" fill="rgb(227,227,227)"/>
<ellipse cx="388.0" cy="418.0" rx="7.0" ry="10.0" fill="rgb(220,220,220)" transform="rotate(20 388.0 418.0)"/>
<path d="M420.0 378.0 C427.5 372.0 454.7 368.8 470.0 370.0 C485.3 371.2 506.5 378.3 512.0 385.0 C517.5 391.7 511.7 404.8 503.0 410.0 C494.3 415.2 473.0 416.7 460.0 416.0 C447.0 415.3 431.7 412.3 425.0 406.0 C418.3 399.7 412.5 384.0 420.0 378.0Z" fill="rgb(173,173,173)"/>
<path d="M395.0 442.0 C402.5 440.0 425.8 433.0 440.0 430.0 C454.2 427.0 468.7 424.7 480.0 424.0 C491.3 423.3 503.3 425.7 508.0 426.0" fill="none" stroke="rgb(71,71,71)" stroke-width="13.0" stroke-linecap="round" stroke-linejoin="round"/>
<ellipse cx="478.0" cy="358.0" rx="13.0" ry="8.0" fill="rgb(198,198,198)" transform="rotate(20 478.0 358.0)"/>
<ellipse cx="478.0" cy="358.0" rx="6.0" ry="4.0" fill="rgb(255,255,255)" transform="rotate(20 478.0 358.0)"/>
<path d="M560.0 320.0 C572.5 312.5 606.7 310.0 620.0 315.0 C633.3 320.0 643.3 337.5 640.0 350.0 C636.7 362.5 613.3 382.5 600.0 390.0 C586.7 397.5 569.2 400.0 560.0 395.0 C550.8 390.0 545.0 372.5 545.0 360.0 C545.0 347.5 547.5 327.5 560.0 320.0Z" fill="rgb(170,170,170)"/>
<path d="M330.0 360.0 C339.2 356.7 368.3 359.2 380.0 365.0 C391.7 370.8 405.0 389.2 400.0 395.0 C395.0 400.8 362.5 401.7 350.0 400.0 C337.5 398.3 328.3 391.7 325.0 385.0 C321.7 378.3 320.8 363.3 330.0 360.0Z" fill="rgb(170,170,170)"/>
<path d="M478.0 300.0 C477.7 303.7 475.7 314.5 476.0 322.0 C476.3 329.5 479.3 341.2 480.0 345.0" fill="none" stroke="rgb(28,28,28)" stroke-width="6.0" stroke-linecap="round" stroke-linejoin="round"/>
<path d="M250.0 303.0 C255.0 301.0 270.7 292.3 280.0 291.0 C289.3 289.7 297.7 292.7 306.0 295.0 C314.3 297.3 326.0 303.3 330.0 305.0" fill="none" stroke="rgb(35,35,35)" stroke-width="7.0" stroke-linecap="round" stroke-linejoin="round"/>
<path d="M142.0 215.0 C140.0 222.5 134.2 245.8 130.0 260.0 C125.8 274.2 120.3 287.5 117.0 300.0 C113.7 312.5 111.2 329.2 110.0 335.0" fill="none" stroke="rgb(50,50,50)" stroke-width="9.0" stroke-linecap="round" stroke-linejoin="round"/>
<path d="M440.0 315.0 C445.0 317.5 460.0 327.8 470.0 330.0 C480.0 332.2 495.0 328.3 500.0 328.0" fill="none" stroke="rgb(85,85,85)" stroke-width="8.0" stroke-linecap="round" stroke-linejoin="round"/>
<path d="M516.0 335.0 L520.0 350.0" fill="none" stroke="rgb(28,28,28)" stroke-width="4.0" stroke-linecap="round" stroke-linejoin="round"/>
<path d="M84.0 150.0 C87.3 150.2 97.3 149.7 104.0 151.0 C110.7 152.3 119.5 153.8 124.0 158.0 C128.5 162.2 128.7 170.7 131.0 176.0 C133.3 181.3 135.5 185.5 138.0 190.0 C140.5 194.5 144.7 198.7 146.0 203.0 C147.3 207.3 146.0 213.8 146.0 216.0" fill="none" stroke="rgb(57,57,57)" stroke-width="6.0" stroke-linecap="round" stroke-linejoin="round"/>
<path d="M262.0 203.0 C263.0 206.2 265.0 215.8 268.0 222.0 C271.0 228.2 280.0 234.5 280.0 240.0 C280.0 245.5 270.0 252.5 268.0 255.0" fill="none" stroke="rgb(198,198,198)" stroke-width="11.0" stroke-linecap="round" stroke-linejoin="round"/>
<path d="M264.0 208.0 C265.0 211.0 267.5 221.0 270.0 226.0 C272.5 231.0 277.5 236.0 279.0 238.0" fill="none" stroke="rgb(241,241,241)" stroke-width="4.0" stroke-linecap="round" stroke-linejoin="round"/>
<path d="M170.0 292.0 C175.0 293.7 189.7 302.3 200.0 302.0 C210.3 301.7 223.3 295.7 232.0 290.0 C240.7 284.3 248.7 271.7 252.0 268.0" fill="none" stroke="rgb(149,149,149)" stroke-width="10.0" stroke-linecap="round" stroke-linejoin="round"/>
<path d="M150.0 230.0 C155.8 229.2 174.2 222.5 185.0 225.0 C195.8 227.5 210.0 241.7 215.0 245.0" fill="none" stroke="rgb(135,135,135)" stroke-width="10.0" stroke-linecap="round" stroke-linejoin="round"/>
<path d="M330.0 262.0 C333.3 264.2 347.5 268.7 350.0 275.0 C352.5 281.3 345.8 295.8 345.0 300.0" fill="none" stroke="rgb(57,57,57)" stroke-width="9.0" stroke-linecap="round" stroke-linejoin="round"/>
<path d="M215.0 160.0 C219.2 161.7 230.8 170.0 240.0 170.0 C249.2 170.0 265.0 161.7 270.0 160.0" fill="none" stroke="rgb(142,142,142)" stroke-width="9.0" stroke-linecap="round" stroke-linejoin="round"/>
<path d="M225.0 150.0 L245.0 152.0" fill="none" stroke="rgb(35,35,35)" stroke-width="6.0" stroke-linecap="round" stroke-linejoin="round"/>
<path d="M585.0 160.0 C587.2 166.7 588.8 190.8 598.0 200.0 C607.2 209.2 627.7 209.0 640.0 215.0 C652.3 221.0 671.2 229.2 672.0 236.0 C672.8 242.8 649.5 252.7 645.0 256.0" fill="none" stroke="rgb(205,205,205)" stroke-width="9.0" stroke-linecap="round" stroke-linejoin="round"/>
<path d="M602.0 238.0 C605.3 236.0 614.0 227.0 622.0 226.0 C630.0 225.0 644.3 228.0 650.0 232.0 C655.7 236.0 659.7 245.0 656.0 250.0 C652.3 255.0 632.7 260.0 628.0 262.0" fill="none" stroke="rgb(212,212,212)" stroke-width="7.0" stroke-linecap="round" stroke-linejoin="round"/>
<path d="M690.0 200.0 C698.3 199.7 729.0 195.3 740.0 198.0 C751.0 200.7 753.3 213.0 756.0 216.0" fill="none" stroke="rgb(198,198,198)" stroke-width="8.0" stroke-linecap="round" stroke-linejoin="round"/>
<path d="M745.0 215.0 L752.0 222.0" fill="none" stroke="rgb(248,248,248)" stroke-width="5.0" stroke-linecap="round" stroke-linejoin="round"/>
<path d="M575.0 255.0 C577.5 259.2 588.3 272.5 590.0 280.0 C591.7 287.5 585.8 296.7 585.0 300.0" fill="none" stroke="rgb(198,198,198)" stroke-width="8.0" stroke-linecap="round" stroke-linejoin="round"/>
<ellipse cx="682.0" cy="278.0" rx="34.0" ry="12.0" fill="rgb(212,212,212)" transform="rotate(-35 682.0 278.0)"/>
<ellipse cx="682.0" cy="278.0" rx="26.0" ry="8.0" fill="rgb(255,255,255)" transform="rotate(-35 682.0 278.0)"/>
<ellipse cx="720.0" cy="232.0" rx="26.0" ry="8.0" fill="rgb(78,78,78)" transform="rotate(10 720.0 232.0)"/>
<path d="M640.0 300.0 C642.5 303.0 655.0 313.0 655.0 318.0 C655.0 323.0 642.5 328.0 640.0 330.0" fill="none" stroke="rgb(227,227,227)" stroke-width="8.0" stroke-linecap="round" stroke-linejoin="round"/>
<path d="M760.0 255.0 L768.0 290.0" fill="none" stroke="rgb(71,71,71)" stroke-width="10.0" stroke-linecap="round" stroke-linejoin="round"/>
<ellipse cx="600.0" cy="250.0" rx="12.0" ry="8.0" fill="rgb(135,135,135)"/>
<ellipse cx="660.0" cy="175.0" rx="18.0" ry="10.0" fill="rgb(156,156,156)"/>
<path d="M520.0 300.0 C530.0 294.2 580.0 293.3 600.0 295.0 C620.0 296.7 640.0 304.2 640.0 310.0 C640.0 315.8 616.7 326.7 600.0 330.0 C583.3 333.3 553.3 335.0 540.0 330.0 C526.7 325.0 510.0 305.8 520.0 300.0Z" fill="rgb(163,163,163)"/></g></g>
<g clip-path="url(#cR)"><g filter="url(#fR)"><rect x="700" y="60" width="900" height="600" fill="rgb(163,163,163)"/>
<path d="M780.0 140.0 C833.3 76.7 1043.3 125.0 1100.0 140.0 C1156.7 155.0 1123.3 203.3 1120.0 230.0 C1116.7 256.7 1083.3 268.3 1080.0 300.0 C1076.7 331.7 1103.3 383.3 1100.0 420.0 C1096.7 456.7 1113.3 503.3 1060.0 520.0 C1006.7 536.7 826.7 583.3 780.0 520.0 C733.3 456.7 726.7 203.3 780.0 140.0Z" fill="rgb(154,154,154)"/>
<ellipse cx="904.0" cy="262.0" rx="20.0" ry="30.0" fill="rgb(136,136,136)"/>
<ellipse cx="976.0" cy="460.0" rx="20.0" ry="26.0" fill="rgb(135,135,135)"/>
<ellipse cx="1076.0" cy="430.0" rx="26.0" ry="16.0" fill="rgb(137,137,137)"/>
<ellipse cx="1090.0" cy="340.0" rx="22.0" ry="18.0" fill="rgb(142,142,142)"/>
<ellipse cx="1010.0" cy="300.0" rx="40.0" ry="14.0" fill="rgb(144,144,144)"/>
<ellipse cx="940.0" cy="210.0" rx="25.0" ry="14.0" fill="rgb(144,144,144)"/>
<ellipse cx="1040.0" cy="470.0" rx="22.0" ry="14.0" fill="rgb(142,142,142)"/>
<ellipse cx="1150.0" cy="250.0" rx="40.0" ry="18.0" fill="rgb(153,153,153)"/>
<path d="M990.0 380.0 C996.7 376.7 1016.7 360.0 1030.0 360.0 C1043.3 360.0 1063.3 376.7 1070.0 380.0" fill="none" stroke="rgb(173,173,173)" stroke-width="8.0" stroke-linecap="round" stroke-linejoin="round"/>
<path d="M870.0 190.0 L900.0 200.0" fill="none" stroke="rgb(170,170,170)" stroke-width="8.0" stroke-linecap="round" stroke-linejoin="round"/>
<path d="M1000.0 330.0 L1040.0 335.0" fill="none" stroke="rgb(173,173,173)" stroke-width="7.0" stroke-linecap="round" stroke-linejoin="round"/>
<path d="M1030.0 215.0 L1050.0 240.0" fill="none" stroke="rgb(177,177,177)" stroke-width="7.0" stroke-linecap="round" stroke-linejoin="round"/>
<path d="M1250.0 140.0 C1285.0 125.0 1391.7 113.3 1420.0 140.0 C1448.3 166.7 1426.7 253.3 1420.0 300.0 C1413.3 346.7 1400.0 391.7 1380.0 420.0 C1360.0 448.3 1325.0 468.3 1300.0 470.0 C1275.0 471.7 1246.7 453.3 1230.0 430.0 C1213.3 406.7 1203.3 363.3 1200.0 330.0 C1196.7 296.7 1201.7 261.7 1210.0 230.0 C1218.3 198.3 1215.0 155.0 1250.0 140.0Z" fill="rgb(181,181,181)"/>
<path d="M1380.0 140.0 C1406.7 121.7 1530.0 90.0 1560.0 140.0 C1590.0 190.0 1575.0 391.7 1560.0 440.0 C1545.0 488.3 1493.3 448.3 1470.0 430.0 C1446.7 411.7 1431.7 360.0 1420.0 330.0 C1408.3 300.0 1406.7 281.7 1400.0 250.0 C1393.3 218.3 1353.3 158.3 1380.0 140.0Z" fill="rgb(195,195,195)"/>
<path d="M1440.0 190.0 C1458.3 175.0 1540.0 153.3 1560.0 180.0 C1580.0 206.7 1573.3 323.3 1560.0 350.0 C1546.7 376.7 1498.3 353.3 1480.0 340.0 C1461.7 326.7 1456.7 295.0 1450.0 270.0 C1443.3 245.0 1421.7 205.0 1440.0 190.0Z" fill="rgb(208,208,208)"/>
<ellipse cx="1482.0" cy="290.0" rx="10.0" ry="14.0" fill="rgb(215,215,215)"/>
<ellipse cx="1290.0" cy="320.0" rx="36.0" ry="30.0" fill="rgb(187,187,187)"/>
<ellipse cx="1262.0" cy="355.0" rx="12.0" ry="12.0" fill="rgb(159,159,159)"/>
<ellipse cx="1262.0" cy="355.0" rx="5.0" ry="5.0" fill="rgb(191,191,191)"/>
<ellipse cx="1200.0" cy="395.0" rx="45.0" ry="22.0" fill="rgb(181,181,181)"/>
<ellipse cx="1330.0" cy="440.0" rx="50.0" ry="22.0" fill="rgb(184,184,184)"/>
<ellipse cx="1150.0" cy="330.0" rx="30.0" ry="16.0" fill="rgb(178,178,178)"/>
<ellipse cx="1340.0" cy="250.0" rx="26.0" ry="14.0" fill="rgb(198,198,198)"/>
<ellipse cx="1250.0" cy="210.0" rx="40.0" ry="20.0" fill="rgb(176,176,176)"/>
<path d="M720.1 400.0 C734.1 373.4 784.4 399.3 804.4 400.0 C824.4 400.7 828.6 396.4 839.9 404.0 C851.1 411.6 861.9 434.2 871.9 445.9 C881.9 457.5 890.6 464.9 899.9 473.9 C909.2 482.9 917.1 492.8 927.8 499.8 C938.4 506.8 951.8 512.5 963.8 515.8 C975.8 519.1 990.4 522.5 999.7 519.8 C1009.0 517.1 1011.4 500.5 1019.7 499.8 C1028.0 499.1 1043.4 505.8 1049.7 515.8 C1056.0 525.8 1112.6 552.5 1057.7 559.8 C1002.8 567.1 776.4 586.4 720.1 559.8 C663.8 533.2 706.1 426.6 720.1 400.0Z" fill="rgb(0,0,0)"/>
<path d="M1440.0 440.0 C1440.5 443.0 1441.8 453.0 1443.0 458.0 C1444.2 463.0 1445.2 466.0 1447.0 470.0 C1448.8 474.0 1451.3 478.7 1454.0 482.0 C1456.7 485.3 1460.0 487.5 1463.0 490.0 C1466.0 492.5 1468.8 494.7 1472.0 497.0 C1475.2 499.3 1478.3 501.5 1482.0 504.0 C1485.7 506.5 1489.3 509.3 1494.0 512.0 C1498.7 514.7 1507.3 518.7 1510.0 520.0" fill="none" stroke="rgb(120,120,120)" stroke-width="26.0" stroke-linecap="round" stroke-linejoin="round"/>
<path d="M1440.0 440.0 C1440.5 443.0 1441.8 453.0 1443.0 458.0 C1444.2 463.0 1445.2 466.0 1447.0 470.0 C1448.8 474.0 1451.3 478.7 1454.0 482.0 C1456.7 485.3 1460.0 487.5 1463.0 490.0 C1466.0 492.5 1468.8 494.7 1472.0 497.0 C1475.2 499.3 1478.3 501.5 1482.0 504.0 C1485.7 506.5 1489.3 509.3 1494.0 512.0 C1498.7 514.7 1507.3 518.7 1510.0 520.0" fill="none" stroke="rgb(85,85,85)" stroke-width="12.0" stroke-linecap="round" stroke-linejoin="round"/>
<path d="M1438.0 442.0 C1438.5 445.0 1439.8 455.0 1441.0 460.0 C1442.2 465.0 1443.2 468.0 1445.0 472.0 C1446.8 476.0 1449.3 480.7 1452.0 484.0 C1454.7 487.3 1458.0 489.5 1461.0 492.0 C1464.0 494.5 1466.8 496.7 1470.0 499.0 C1473.2 501.3 1476.3 503.5 1480.0 506.0 C1483.7 508.5 1487.3 511.3 1492.0 514.0 C1496.7 516.7 1505.3 520.7 1508.0 522.0" fill="none" stroke="rgb(42,42,42)" stroke-width="4.0" stroke-linecap="round" stroke-linejoin="round"/>
<path d="M880.0 140.0 C890.8 134.0 952.5 135.7 965.0 140.0 C977.5 144.3 965.8 160.0 955.0 166.0 C944.2 172.0 912.5 180.3 900.0 176.0 C887.5 171.7 869.2 146.0 880.0 140.0Z" fill="rgb(120,120,120)"/>
<path d="M962.0 152.0 L978.0 147.0" fill="none" stroke="rgb(14,14,14)" stroke-width="6.0" stroke-linecap="round" stroke-linejoin="round"/></g></g>
<g clip-path="url(#cL)"><g filter="url(#jag)"><use href="#shelf"/><path d="M595.8 456.9 C596.6 455.4 597.8 453.4 601.8 452.9 C605.8 452.4 615.1 453.4 619.8 453.9 C624.5 454.4 627.8 454.2 629.8 455.9 C631.8 457.6 632.8 462.0 631.8 463.9 C630.8 465.8 627.1 466.7 623.8 467.3 C620.5 467.9 615.5 467.5 611.8 467.3 C608.1 467.1 604.3 466.8 601.8 465.9 C599.3 465.0 597.8 463.4 596.8 461.9 C595.8 460.4 595.0 458.4 595.8 456.9Z" fill="#2a7789"/></g></g>
<g clip-path="url(#cR)"><g filter="url(#jag)"><g transform="translate(720.0 0)"><use href="#shelf"/><path d="M595.8 456.9 C596.6 455.4 597.8 453.4 601.8 452.9 C605.8 452.4 615.1 453.4 619.8 453.9 C624.5 454.4 627.8 454.2 629.8 455.9 C631.8 457.6 632.8 462.0 631.8 463.9 C630.8 465.8 627.1 466.7 623.8 467.3 C620.5 467.9 615.5 467.5 611.8 467.3 C608.1 467.1 604.3 466.8 601.8 465.9 C599.3 465.0 597.8 463.4 596.8 461.9 C595.8 460.4 595.0 458.4 595.8 456.9Z" fill="#46a283"/></g></g></g>
<rect x="84.0" y="150.3" width="689.3" height="392.9" fill="none" stroke="#000" stroke-width="1.5"/>
<rect x="804.0" y="150.3" width="689.3" height="392.9" fill="none" stroke="#000" stroke-width="1.5"/>
<g clip-path="url(#cL)"><g filter="url(#jag)"><use href="#land"/></g><use href="#ovl"/></g>
<g clip-path="url(#cR)"><g filter="url(#jag)"><g transform="translate(720.0 0)"><use href="#land"/></g></g><g transform="translate(720.0 0)"><use href="#ovl"/></g></g>
<g clip-path="url(#cL)"><path d="M572.9 266.4 L579.9 281.0 L565.9 281.0Z" fill="#2ca02c" stroke="#000" stroke-width="1.6" stroke-linejoin="miter"/>
<g fill="#fff">
<path d="M571.5 263 L579.5 261.3 L582.1 271.5 L584.6 272.3 L584.6 283.2 L568.6 283.2 L568.6 274.5 L572.6 273.4 Z"/>
<path d="M594.8 299 L609.2 300.7 L611.9 313.4 L604.9 315.5 L600 313 Z"/>
<path d="M585.5 310 L592.5 310 L592 313.4 L586 313.2 Z"/>
<path d="M568.1 319.5 L575 319.5 L574.6 323 L569 323 Z"/>
<rect x="635" y="279.4" width="9" height="11"/>
</g>
<g clip-path="url(#gtc)"><path d="M572.9 266.4 L579.9 281.0 L565.9 281.0Z" fill="#2ca02c" stroke="#000" stroke-width="1.6" stroke-linejoin="miter"/></g>
<path d="M598.0 297.6 L605.0 312.2 L591.0 312.2Z" fill="#1f77b4" stroke="#000" stroke-width="1.6" stroke-linejoin="miter"/>
<path d="M589.9 296.1 L596.9 310.7 L582.9 310.7Z" fill="#ff7f0e" stroke="#000" stroke-width="1.6" stroke-linejoin="miter"/>
<path d="M572.9 305.5 L579.9 320.1 L565.9 320.1Z" fill="#d62728" stroke="#000" stroke-width="1.6" stroke-linejoin="miter"/>
<path d="M639.9 282.4 L646.9 297.0 L632.9 297.0Z" fill="#9467bd" stroke="#000" stroke-width="1.6" stroke-linejoin="miter"/>
<path d="M591.0 270.2 L598.0 284.8 L584.0 284.8Z" fill="#8c564b" stroke="#000" stroke-width="1.6" stroke-linejoin="miter"/>
<circle cx="168.3" cy="206.3" r="5.8" fill="#fd8d3c" stroke="#000" stroke-width="1.55"/>
<circle cx="178.5" cy="228.3" r="5.8" fill="#fde0cc" stroke="#000" stroke-width="1.55"/>
<path d="M283.4 242.2 L288.7 245.2 L288.7 251.4 L283.4 254.4 L278.1 251.4 L278.1 245.2Z" fill="#2ca02c" stroke="#000" stroke-width="1.55" stroke-linejoin="miter"/>
<path d="M226.4 275.1 L231.7 278.1 L231.7 284.2 L226.4 287.3 L221.1 284.2 L221.1 278.1Z" fill="#fdae6b" stroke="#000" stroke-width="1.55" stroke-linejoin="miter"/>
<path d="M364.0 271.3 L369.8 275.5 L367.6 282.3 L360.4 282.3 L358.2 275.5Z" fill="#fdc99a" stroke="#000" stroke-width="1.55" stroke-linejoin="miter"/>
<circle cx="516.6" cy="197.3" r="5.8" fill="#9ecbee" stroke="#000" stroke-width="1.55"/>
<path d="M684.5 162.2 L689.8 165.2 L689.8 171.4 L684.5 174.4 L679.2 171.4 L679.2 165.2Z" fill="#4a90c8" stroke="#000" stroke-width="1.55" stroke-linejoin="miter"/>
<circle cx="747.5" cy="176.3" r="5.8" fill="#1f77b4" stroke="#000" stroke-width="1.55"/>
<path d="M676.9 190.2 L682.7 194.4 L680.5 201.2 L673.3 201.2 L671.1 194.4Z" fill="#ff7f0e" stroke="#000" stroke-width="1.55" stroke-linejoin="miter"/>
<path d="M671.8 262.2 L677.6 266.4 L675.4 273.2 L668.2 273.2 L666.0 266.4Z" fill="#6aaede" stroke="#000" stroke-width="1.55" stroke-linejoin="miter"/>
<path d="M698.7 268.2 L704.0 271.2 L704.0 277.4 L698.7 280.4 L693.4 277.4 L693.4 271.2Z" fill="#c8e6fa" stroke="#000" stroke-width="1.55" stroke-linejoin="miter"/>
<path d="M637.8 318.9 L643.6 323.1 L641.4 329.9 L634.2 329.9 L632.0 323.1Z" fill="#4cb74c" stroke="#000" stroke-width="1.55" stroke-linejoin="miter"/></g>
<g clip-path="url(#cR)"><g transform="translate(720.0 0)"><path d="M572.9 266.4 L579.9 281.0 L565.9 281.0Z" fill="#2ca02c" stroke="#000" stroke-width="1.6" stroke-linejoin="miter"/>
<g fill="#fff">
<path d="M571.5 263 L579.5 261.3 L582.1 271.5 L584.6 272.3 L584.6 283.2 L568.6 283.2 L568.6 274.5 L572.6 273.4 Z"/>
<path d="M594.8 299 L609.2 300.7 L611.9 313.4 L604.9 315.5 L600 313 Z"/>
<path d="M585.5 310 L592.5 310 L592 313.4 L586 313.2 Z"/>
<path d="M568.1 319.5 L575 319.5 L574.6 323 L569 323 Z"/>
<rect x="635" y="279.4" width="9" height="11"/>
</g>
<g clip-path="url(#gtc)"><path d="M572.9 266.4 L579.9 281.0 L565.9 281.0Z" fill="#2ca02c" stroke="#000" stroke-width="1.6" stroke-linejoin="miter"/></g>
<path d="M598.0 297.6 L605.0 312.2 L591.0 312.2Z" fill="#1f77b4" stroke="#000" stroke-width="1.6" stroke-linejoin="miter"/>
<path d="M589.9 296.1 L596.9 310.7 L582.9 310.7Z" fill="#ff7f0e" stroke="#000" stroke-width="1.6" stroke-linejoin="miter"/>
<path d="M572.9 305.5 L579.9 320.1 L565.9 320.1Z" fill="#d62728" stroke="#000" stroke-width="1.6" stroke-linejoin="miter"/>
<path d="M639.9 282.4 L646.9 297.0 L632.9 297.0Z" fill="#9467bd" stroke="#000" stroke-width="1.6" stroke-linejoin="miter"/>
<path d="M591.0 270.2 L598.0 284.8 L584.0 284.8Z" fill="#8c564b" stroke="#000" stroke-width="1.6" stroke-linejoin="miter"/>
<circle cx="168.3" cy="206.3" r="5.8" fill="#fd8d3c" stroke="#000" stroke-width="1.55"/>
<circle cx="178.5" cy="228.3" r="5.8" fill="#fde0cc" stroke="#000" stroke-width="1.55"/>
<path d="M283.4 242.2 L288.7 245.2 L288.7 251.4 L283.4 254.4 L278.1 251.4 L278.1 245.2Z" fill="#2ca02c" stroke="#000" stroke-width="1.55" stroke-linejoin="miter"/>
<path d="M226.4 275.1 L231.7 278.1 L231.7 284.2 L226.4 287.3 L221.1 284.2 L221.1 278.1Z" fill="#fdae6b" stroke="#000" stroke-width="1.55" stroke-linejoin="miter"/>
<path d="M364.0 271.3 L369.8 275.5 L367.6 282.3 L360.4 282.3 L358.2 275.5Z" fill="#fdc99a" stroke="#000" stroke-width="1.55" stroke-linejoin="miter"/>
<circle cx="516.6" cy="197.3" r="5.8" fill="#9ecbee" stroke="#000" stroke-width="1.55"/>
<path d="M684.5 162.2 L689.8 165.2 L689.8 171.4 L684.5 174.4 L679.2 171.4 L679.2 165.2Z" fill="#4a90c8" stroke="#000" stroke-width="1.55" stroke-linejoin="miter"/>
<circle cx="747.5" cy="176.3" r="5.8" fill="#1f77b4" stroke="#000" stroke-width="1.55"/>
<path d="M676.9 190.2 L682.7 194.4 L680.5 201.2 L673.3 201.2 L671.1 194.4Z" fill="#ff7f0e" stroke="#000" stroke-width="1.55" stroke-linejoin="miter"/>
<path d="M671.8 262.2 L677.6 266.4 L675.4 273.2 L668.2 273.2 L666.0 266.4Z" fill="#6aaede" stroke="#000" stroke-width="1.55" stroke-linejoin="miter"/>
<path d="M698.7 268.2 L704.0 271.2 L704.0 277.4 L698.7 280.4 L693.4 277.4 L693.4 271.2Z" fill="#c8e6fa" stroke="#000" stroke-width="1.55" stroke-linejoin="miter"/>
<path d="M637.8 318.9 L643.6 323.1 L641.4 329.9 L634.2 329.9 L632.0 323.1Z" fill="#4cb74c" stroke="#000" stroke-width="1.55" stroke-linejoin="miter"/></g></g>
<g stroke="#000" fill="none"><path d="M84.65 543.70 v3.8 M84.65 149.80 v-3.8" stroke-width="1.6"/><path d="M106.85 543.70 v3.8 M106.85 149.80 v-3.8" stroke-width="1.6"/><path d="M129.05 543.70 v3.8 M129.05 149.80 v-3.8" stroke-width="1.6"/><path d="M151.26 543.70 v3.8 M151.26 149.80 v-3.8" stroke-width="1.6"/><path d="M173.46 543.70 v8.8 M173.46 149.80 v-8.8" stroke-width="3.0"/><path d="M195.66 543.70 v3.8 M195.66 149.80 v-3.8" stroke-width="1.6"/><path d="M217.87 543.70 v3.8 M217.87 149.80 v-3.8" stroke-width="1.6"/><path d="M240.07 543.70 v3.8 M240.07 149.80 v-3.8" stroke-width="1.6"/><path d="M262.27 543.70 v3.8 M262.27 149.80 v-3.8" stroke-width="1.6"/><path d="M284.48 543.70 v8.8 M284.48 149.80 v-8.8" stroke-width="3.0"/><path d="M306.68 543.70 v3.8 M306.68 149.80 v-3.8" stroke-width="1.6"/><path d="M328.89 543.70 v3.8 M328.89 149.80 v-3.8" stroke-width="1.6"/><path d="M351.09 543.70 v3.8 M351.09 149.80 v-3.8" stroke-width="1.6"/><path d="M373.29 543.70 v3.8 M373.29 149.80 v-3.8" stroke-width="1.6"/><path d="M395.50 543.70 v8.8 M395.50 149.80 v-8.8" stroke-width="3.0"/><path d="M417.70 543.70 v3.8 M417.70 149.80 v-3.8" stroke-width="1.6"/><path d="M439.90 543.70 v3.8 M439.90 149.80 v-3.8" stroke-width="1.6"/><path d="M462.11 543.70 v3.8 M462.11 149.80 v-3.8" stroke-width="1.6"/><path d="M484.31 543.70 v3.8 M484.31 149.80 v-3.8" stroke-width="1.6"/><path d="M506.51 543.70 v8.8 M506.51 149.80 v-8.8" stroke-width="3.0"/><path d="M528.72 543.70 v3.8 M528.72 149.80 v-3.8" stroke-width="1.6"/><path d="M550.92 543.70 v3.8 M550.92 149.80 v-3.8" stroke-width="1.6"/><path d="M573.12 543.70 v3.8 M573.12 149.80 v-3.8" stroke-width="1.6"/><path d="M595.33 543.70 v3.8 M595.33 149.80 v-3.8" stroke-width="1.6"/><path d="M617.53 543.70 v8.8 M617.53 149.80 v-8.8" stroke-width="3.0"/><path d="M639.74 543.70 v3.8 M639.74 149.80 v-3.8" stroke-width="1.6"/><path d="M661.94 543.70 v3.8 M661.94 149.80 v-3.8" stroke-width="1.6"/><path d="M684.14 543.70 v3.8 M684.14 149.80 v-3.8" stroke-width="1.6"/><path d="M706.35 543.70 v3.8 M706.35 149.80 v-3.8" stroke-width="1.6"/><path d="M728.55 543.70 v8.8 M728.55 149.80 v-8.8" stroke-width="3.0"/><path d="M750.75 543.70 v3.8 M750.75 149.80 v-3.8" stroke-width="1.6"/><path d="M772.96 543.70 v3.8 M772.96 149.80 v-3.8" stroke-width="1.6"/><path d="M83.50 543.12 h-3.8 M773.80 543.12 h3.8" stroke-width="1.6"/><path d="M83.50 520.80 h-3.8 M773.80 520.80 h3.8" stroke-width="1.6"/><path d="M83.50 498.42 h-3.8 M773.80 498.42 h3.8" stroke-width="1.6"/><path d="M83.50 475.98 h-8.8 M773.80 475.98 h8.8" stroke-width="3.0"/><path d="M83.50 453.47 h-3.8 M773.80 453.47 h3.8" stroke-width="1.6"/><path d="M83.50 430.89 h-3.8 M773.80 430.89 h3.8" stroke-width="1.6"/><path d="M83.50 408.22 h-3.8 M773.80 408.22 h3.8" stroke-width="1.6"/><path d="M83.50 385.46 h-3.8 M773.80 385.46 h3.8" stroke-width="1.6"/><path d="M83.50 362.60 h-8.8 M773.80 362.60 h8.8" stroke-width="3.0"/><path d="M83.50 339.63 h-3.8 M773.80 339.63 h3.8" stroke-width="1.6"/><path d="M83.50 316.55 h-3.8 M773.80 316.55 h3.8" stroke-width="1.6"/><path d="M83.50 293.35 h-3.8 M773.80 293.35 h3.8" stroke-width="1.6"/><path d="M83.50 270.01 h-3.8 M773.80 270.01 h3.8" stroke-width="1.6"/><path d="M83.50 246.53 h-8.8 M773.80 246.53 h8.8" stroke-width="3.0"/><path d="M83.50 222.90 h-3.8 M773.80 222.90 h3.8" stroke-width="1.6"/><path d="M83.50 199.12 h-3.8 M773.80 199.12 h3.8" stroke-width="1.6"/><path d="M83.50 175.16 h-3.8 M773.80 175.16 h3.8" stroke-width="1.6"/><path d="M83.50 151.03 h-3.8 M773.80 151.03 h3.8" stroke-width="1.6"/><path d="M804.65 543.70 v3.8 M804.65 149.80 v-3.8" stroke-width="1.6"/><path d="M826.85 543.70 v3.8 M826.85 149.80 v-3.8" stroke-width="1.6"/><path d="M849.05 543.70 v3.8 M849.05 149.80 v-3.8" stroke-width="1.6"/><path d="M871.26 543.70 v3.8 M871.26 149.80 v-3.8" stroke-width="1.6"/><path d="M893.46 543.70 v8.8 M893.46 149.80 v-8.8" stroke-width="3.0"/><path d="M915.66 543.70 v3.8 M915.66 149.80 v-3.8" stroke-width="1.6"/><path d="M937.87 543.70 v3.8 M937.87 149.80 v-3.8" stroke-width="1.6"/><path d="M960.07 543.70 v3.8 M960.07 149.80 v-3.8" stroke-width="1.6"/><path d="M982.27 543.70 v3.8 M982.27 149.80 v-3.8" stroke-width="1.6"/><path d="M1004.48 543.70 v8.8 M1004.48 149.80 v-8.8" stroke-width="3.0"/><path d="M1026.68 543.70 v3.8 M1026.68 149.80 v-3.8" stroke-width="1.6"/><path d="M1048.89 543.70 v3.8 M1048.89 149.80 v-3.8" stroke-width="1.6"/><path d="M1071.09 543.70 v3.8 M1071.09 149.80 v-3.8" stroke-width="1.6"/><path d="M1093.29 543.70 v3.8 M1093.29 149.80 v-3.8" stroke-width="1.6"/><path d="M1115.50 543.70 v8.8 M1115.50 149.80 v-8.8" stroke-width="3.0"/><path d="M1137.70 543.70 v3.8 M1137.70 149.80 v-3.8" stroke-width="1.6"/><path d="M1159.90 543.70 v3.8 M1159.90 149.80 v-3.8" stroke-width="1.6"/><path d="M1182.11 543.70 v3.8 M1182.11 149.80 v-3.8" stroke-width="1.6"/><path d="M1204.31 543.70 v3.8 M1204.31 149.80 v-3.8" stroke-width="1.6"/><path d="M1226.51 543.70 v8.8 M1226.51 149.80 v-8.8" stroke-width="3.0"/><path d="M1248.72 543.70 v3.8 M1248.72 149.80 v-3.8" stroke-width="1.6"/><path d="M1270.92 543.70 v3.8 M1270.92 149.80 v-3.8" stroke-width="1.6"/><path d="M1293.12 543.70 v3.8 M1293.12 149.80 v-3.8" stroke-width="1.6"/><path d="M1315.33 543.70 v3.8 M1315.33 149.80 v-3.8" stroke-width="1.6"/><path d="M1337.53 543.70 v8.8 M1337.53 149.80 v-8.8" stroke-width="3.0"/><path d="M1359.74 543.70 v3.8 M1359.74 149.80 v-3.8" stroke-width="1.6"/><path d="M1381.94 543.70 v3.8 M1381.94 149.80 v-3.8" stroke-width="1.6"/><path d="M1404.14 543.70 v3.8 M1404.14 149.80 v-3.8" stroke-width="1.6"/><path d="M1426.35 543.70 v3.8 M1426.35 149.80 v-3.8" stroke-width="1.6"/><path d="M1448.55 543.70 v8.8 M1448.55 149.80 v-8.8" stroke-width="3.0"/><path d="M1470.75 543.70 v3.8 M1470.75 149.80 v-3.8" stroke-width="1.6"/><path d="M1492.96 543.70 v3.8 M1492.96 149.80 v-3.8" stroke-width="1.6"/><path d="M803.50 543.12 h-3.8 M1493.80 543.12 h3.8" stroke-width="1.6"/><path d="M803.50 520.80 h-3.8 M1493.80 520.80 h3.8" stroke-width="1.6"/><path d="M803.50 498.42 h-3.8 M1493.80 498.42 h3.8" stroke-width="1.6"/><path d="M803.50 475.98 h-8.8 M1493.80 475.98 h8.8" stroke-width="3.0"/><path d="M803.50 453.47 h-3.8 M1493.80 453.47 h3.8" stroke-width="1.6"/><path d="M803.50 430.89 h-3.8 M1493.80 430.89 h3.8" stroke-width="1.6"/><path d="M803.50 408.22 h-3.8 M1493.80 408.22 h3.8" stroke-width="1.6"/><path d="M803.50 385.46 h-3.8 M1493.80 385.46 h3.8" stroke-width="1.6"/><path d="M803.50 362.60 h-8.8 M1493.80 362.60 h8.8" stroke-width="3.0"/><path d="M803.50 339.63 h-3.8 M1493.80 339.63 h3.8" stroke-width="1.6"/><path d="M803.50 316.55 h-3.8 M1493.80 316.55 h3.8" stroke-width="1.6"/><path d="M803.50 293.35 h-3.8 M1493.80 293.35 h3.8" stroke-width="1.6"/><path d="M803.50 270.01 h-3.8 M1493.80 270.01 h3.8" stroke-width="1.6"/><path d="M803.50 246.53 h-8.8 M1493.80 246.53 h8.8" stroke-width="3.0"/><path d="M803.50 222.90 h-3.8 M1493.80 222.90 h3.8" stroke-width="1.6"/><path d="M803.50 199.12 h-3.8 M1493.80 199.12 h3.8" stroke-width="1.6"/><path d="M803.50 175.16 h-3.8 M1493.80 175.16 h3.8" stroke-width="1.6"/><path d="M803.50 151.03 h-3.8 M1493.80 151.03 h3.8" stroke-width="1.6"/></g>
<text x="788.6" y="42.0" font-size="39.20" text-anchor="middle" font-weight="bold" textLength="836.0" lengthAdjust="spacingAndGlyphs">Salinity (150 m) - 2024-11-04 00:00:00</text>
<text x="428.6" y="138.4" font-size="28.00" text-anchor="middle" font-weight="bold" textLength="100.0" lengthAdjust="spacingAndGlyphs">RTOFS</text>
<text x="1148.8" y="138.4" font-size="28.00" text-anchor="middle" font-weight="bold" textLength="256.0" lengthAdjust="spacingAndGlyphs">RTOFS (Parallel)</text>
<text x="173.5" y="574.9" font-size="23.30" text-anchor="middle" textLength="61.0" lengthAdjust="spacingAndGlyphs">85°W</text>
<text x="893.5" y="574.9" font-size="23.30" text-anchor="middle" textLength="61.0" lengthAdjust="spacingAndGlyphs">85°W</text>
<text x="284.5" y="574.9" font-size="23.30" text-anchor="middle" textLength="61.0" lengthAdjust="spacingAndGlyphs">80°W</text>
<text x="1004.5" y="574.9" font-size="23.30" text-anchor="middle" textLength="61.0" lengthAdjust="spacingAndGlyphs">80°W</text>
<text x="395.5" y="574.9" font-size="23.30" text-anchor="middle" textLength="61.0" lengthAdjust="spacingAndGlyphs">75°W</text>
<text x="1115.5" y="574.9" font-size="23.30" text-anchor="middle" textLength="61.0" lengthAdjust="spacingAndGlyphs">75°W</text>
<text x="506.5" y="574.9" font-size="23.30" text-anchor="middle" textLength="61.0" lengthAdjust="spacingAndGlyphs">70°W</text>
<text x="1226.5" y="574.9" font-size="23.30" text-anchor="middle" textLength="61.0" lengthAdjust="spacingAndGlyphs">70°W</text>
<text x="617.5" y="574.9" font-size="23.30" text-anchor="middle" textLength="61.0" lengthAdjust="spacingAndGlyphs">65°W</text>
<text x="1337.5" y="574.9" font-size="23.30" text-anchor="middle" textLength="61.0" lengthAdjust="spacingAndGlyphs">65°W</text>
<text x="728.5" y="574.9" font-size="23.30" text-anchor="middle" textLength="61.0" lengthAdjust="spacingAndGlyphs">60°W</text>
<text x="1448.5" y="574.9" font-size="23.30" text-anchor="middle" textLength="61.0" lengthAdjust="spacingAndGlyphs">60°W</text>
<text x="68.2" y="254.9" font-size="23.30" text-anchor="end" textLength="55.0" lengthAdjust="spacingAndGlyphs">20°N</text>
<text x="1508.2" y="254.9" font-size="23.30" text-anchor="start" textLength="55.0" lengthAdjust="spacingAndGlyphs">20°N</text>
<text x="68.2" y="371.0" font-size="23.30" text-anchor="end" textLength="55.0" lengthAdjust="spacingAndGlyphs">15°N</text>
<text x="1508.2" y="371.0" font-size="23.30" text-anchor="start" textLength="55.0" lengthAdjust="spacingAndGlyphs">15°N</text>
<text x="68.2" y="484.4" font-size="23.30" text-anchor="end" textLength="55.0" lengthAdjust="spacingAndGlyphs">10°N</text>
<text x="1508.2" y="484.4" font-size="23.30" text-anchor="start" textLength="55.0" lengthAdjust="spacingAndGlyphs">10°N</text>
<rect x="180.30" y="602.6" width="76.54" height="16.6" fill="#2b1b7a"/>
<rect x="256.34" y="602.6" width="76.54" height="16.6" fill="#2e229d"/>
<rect x="332.39" y="602.6" width="76.54" height="16.6" fill="#1c3e9e"/>
<rect x="408.43" y="602.6" width="76.54" height="16.6" fill="#0f5194"/>
<rect x="484.48" y="602.6" width="76.54" height="16.6" fill="#135b8f"/>
<rect x="560.52" y="602.6" width="76.54" height="16.6" fill="#1e6a8b"/>
<rect x="636.56" y="602.6" width="76.54" height="16.6" fill="#2a7789"/>
<rect x="712.61" y="602.6" width="76.54" height="16.6" fill="#378488"/>
<rect x="788.65" y="602.6" width="76.54" height="16.6" fill="#3e9486"/>
<rect x="864.69" y="602.6" width="76.54" height="16.6" fill="#46a283"/>
<rect x="940.74" y="602.6" width="76.54" height="16.6" fill="#50ae7f"/>
<rect x="1016.78" y="602.6" width="76.54" height="16.6" fill="#5dba77"/>
<rect x="1092.83" y="602.6" width="76.54" height="16.6" fill="#74c66b"/>
<rect x="1168.87" y="602.6" width="76.54" height="16.6" fill="#93d05f"/>
<rect x="1244.91" y="602.6" width="76.54" height="16.6" fill="#b3d95f"/>
<rect x="1320.96" y="602.6" width="76.54" height="16.6" fill="#d5e073"/>
<path d="M181.0 602.6 L118.8 610.9 L181.0 619.2 Z" fill="#2a186c"/>
<path d="M1396.3 602.6 L1458.0 610.9 L1396.3 619.2 Z" fill="#fdee99"/>
<path d="M180.3 602.6 L1397.0 602.6 L1458.0 610.9 L1397.0 619.2 L180.3 619.2 L118.8 610.9 Z" fill="none" stroke="#000" stroke-width="1.2" stroke-linejoin="miter"/>
<path d="M180.30 619.2 v5.6" stroke="#000" stroke-width="1.2"/>
<text x="180.3" y="647.8" font-size="23.00" text-anchor="middle" textLength="44.0" lengthAdjust="spacingAndGlyphs">35.7</text>
<path d="M332.39 619.2 v5.6" stroke="#000" stroke-width="1.2"/>
<text x="332.4" y="647.8" font-size="23.00" text-anchor="middle" textLength="44.0" lengthAdjust="spacingAndGlyphs">35.9</text>
<path d="M484.48 619.2 v5.6" stroke="#000" stroke-width="1.2"/>
<text x="484.5" y="647.8" font-size="23.00" text-anchor="middle" textLength="44.0" lengthAdjust="spacingAndGlyphs">36.1</text>
<path d="M636.56 619.2 v5.6" stroke="#000" stroke-width="1.2"/>
<text x="636.6" y="647.8" font-size="23.00" text-anchor="middle" textLength="44.0" lengthAdjust="spacingAndGlyphs">36.3</text>
<path d="M788.65 619.2 v5.6" stroke="#000" stroke-width="1.2"/>
<text x="788.7" y="647.8" font-size="23.00" text-anchor="middle" textLength="44.0" lengthAdjust="spacingAndGlyphs">36.5</text>
<path d="M940.74 619.2 v5.6" stroke="#000" stroke-width="1.2"/>
<text x="940.7" y="647.8" font-size="23.00" text-anchor="middle" textLength="44.0" lengthAdjust="spacingAndGlyphs">36.7</text>
<path d="M1092.83 619.2 v5.6" stroke="#000" stroke-width="1.2"/>
<text x="1092.8" y="647.8" font-size="23.00" text-anchor="middle" textLength="44.0" lengthAdjust="spacingAndGlyphs">36.9</text>
<path d="M1244.91 619.2 v5.6" stroke="#000" stroke-width="1.2"/>
<text x="1244.9" y="647.8" font-size="23.00" text-anchor="middle" textLength="44.0" lengthAdjust="spacingAndGlyphs">37.1</text>
<path d="M1397.00 619.2 v5.6" stroke="#000" stroke-width="1.2"/>
<text x="1397.0" y="647.8" font-size="23.00" text-anchor="middle" textLength="44.0" lengthAdjust="spacingAndGlyphs">37.3</text>
<text x="789.0" y="675.0" font-size="21.20" text-anchor="middle" font-weight="bold" textLength="157.0" lengthAdjust="spacingAndGlyphs">Salinity (psu)</text>
<text x="788.5" y="700.9" font-size="15.70" text-anchor="middle" font-weight="bold" font-style="italic" textLength="651.0" lengthAdjust="spacingAndGlyphs">Glider/Argo Search Window: 2024-10-30 02:00:00 to 2024-11-04 00:00:00</text>
<rect x="189.8" y="728.9" width="1197.2" height="66.3" rx="3.2" ry="3.2" fill="#fff" stroke="#cccccc" stroke-width="1.4"/>
<circle cx="210.1" cy="741.0" r="6.0" fill="#1f77b4" stroke="#000" stroke-width="1.55"/>
<text x="235.2" y="745.9" font-size="13.60" text-anchor="start" textLength="60.6" lengthAdjust="spacingAndGlyphs">1902314</text>
<path d="M210.1 755.7 L215.6 758.9 L215.6 765.1 L210.1 768.3 L204.6 765.1 L204.6 758.9Z" fill="#4a90c8" stroke="#000" stroke-width="1.55" stroke-linejoin="miter"/>
<text x="235.2" y="766.9" font-size="13.60" text-anchor="start" textLength="60.6" lengthAdjust="spacingAndGlyphs">1902364</text>
<path d="M210.1 777.2 L216.1 781.6 L213.8 788.6 L206.4 788.6 L204.1 781.6Z" fill="#6aaede" stroke="#000" stroke-width="1.55" stroke-linejoin="miter"/>
<text x="235.2" y="787.9" font-size="13.60" text-anchor="start" textLength="60.6" lengthAdjust="spacingAndGlyphs">4902113</text>
<circle cx="339.1" cy="741.0" r="6.0" fill="#9ecbee" stroke="#000" stroke-width="1.55"/>
<text x="364.2" y="745.9" font-size="13.60" text-anchor="start" textLength="60.6" lengthAdjust="spacingAndGlyphs">4902534</text>
<path d="M339.1 755.7 L344.6 758.9 L344.6 765.1 L339.1 768.3 L333.6 765.1 L333.6 758.9Z" fill="#c8e6fa" stroke="#000" stroke-width="1.55" stroke-linejoin="miter"/>
<text x="364.2" y="766.9" font-size="13.60" text-anchor="start" textLength="60.6" lengthAdjust="spacingAndGlyphs">4902609</text>
<path d="M339.1 777.2 L345.1 781.6 L342.8 788.6 L335.4 788.6 L333.1 781.6Z" fill="#ff7f0e" stroke="#000" stroke-width="1.55" stroke-linejoin="miter"/>
<text x="364.2" y="787.9" font-size="13.60" text-anchor="start" textLength="60.6" lengthAdjust="spacingAndGlyphs">4903244</text>
<circle cx="467.3" cy="741.0" r="6.0" fill="#fd8d3c" stroke="#000" stroke-width="1.55"/>
<text x="492.8" y="745.9" font-size="13.60" text-anchor="start" textLength="60.6" lengthAdjust="spacingAndGlyphs">4903250</text>
<path d="M467.3 755.7 L472.8 758.9 L472.8 765.1 L467.3 768.3 L461.8 765.1 L461.8 758.9Z" fill="#fdae6b" stroke="#000" stroke-width="1.55" stroke-linejoin="miter"/>
<text x="492.8" y="766.9" font-size="13.60" text-anchor="start" textLength="60.6" lengthAdjust="spacingAndGlyphs">4903559</text>
<path d="M467.3 777.2 L473.3 781.6 L471.0 788.6 L463.6 788.6 L461.3 781.6Z" fill="#fdc99a" stroke="#000" stroke-width="1.55" stroke-linejoin="miter"/>
<text x="492.8" y="787.9" font-size="13.60" text-anchor="start" textLength="60.6" lengthAdjust="spacingAndGlyphs">4903561</text>
<circle cx="596.0" cy="741.0" r="6.0" fill="#fde0cc" stroke="#000" stroke-width="1.55"/>
<text x="621.4" y="745.9" font-size="13.60" text-anchor="start" textLength="60.6" lengthAdjust="spacingAndGlyphs">4903562</text>
<path d="M596.0 755.7 L601.5 758.9 L601.5 765.1 L596.0 768.3 L590.5 765.1 L590.5 758.9Z" fill="#2ca02c" stroke="#000" stroke-width="1.55" stroke-linejoin="miter"/>
<text x="621.4" y="766.9" font-size="13.60" text-anchor="start" textLength="60.6" lengthAdjust="spacingAndGlyphs">4903563</text>
<path d="M596.0 777.2 L602.0 781.6 L599.7 788.6 L592.3 788.6 L590.0 781.6Z" fill="#4cb74c" stroke="#000" stroke-width="1.55" stroke-linejoin="miter"/>
<text x="621.4" y="787.9" font-size="13.60" text-anchor="start" textLength="60.6" lengthAdjust="spacingAndGlyphs">6903111</text>
<path d="M709.8 741.0 H740.8" stroke="#1f77b4" stroke-width="2.3"/>
<path d="M725.3 733.3 L732.3 747.9 L718.2 747.9Z" fill="#1f77b4" stroke="#000" stroke-width="1.6" stroke-linejoin="miter"/>
<text x="750.6" y="745.9" font-size="13.60" text-anchor="start" textLength="165.0" lengthAdjust="spacingAndGlyphs">SG610-20240711T1133</text>
<path d="M709.8 762.0 H740.8" stroke="#ff7f0e" stroke-width="2.3"/>
<path d="M725.3 754.3 L732.3 768.9 L718.2 768.9Z" fill="#ff7f0e" stroke="#000" stroke-width="1.6" stroke-linejoin="miter"/>
<text x="750.6" y="766.9" font-size="13.60" text-anchor="start" textLength="165.0" lengthAdjust="spacingAndGlyphs">SG630-20240713T1103</text>
<path d="M943.2 741.0 H973.9" stroke="#2ca02c" stroke-width="2.3"/>
<path d="M958.6 733.3 L965.6 747.9 L951.6 747.9Z" fill="#2ca02c" stroke="#000" stroke-width="1.6" stroke-linejoin="miter"/>
<text x="983.8" y="745.9" font-size="13.60" text-anchor="start" textLength="164.8" lengthAdjust="spacingAndGlyphs">SG649-20240712T1133</text>
<path d="M943.2 762.0 H973.9" stroke="#d62728" stroke-width="2.3"/>
<path d="M958.6 754.3 L965.6 768.9 L951.6 768.9Z" fill="#d62728" stroke="#000" stroke-width="1.6" stroke-linejoin="miter"/>
<text x="983.8" y="766.9" font-size="13.60" text-anchor="start" textLength="164.8" lengthAdjust="spacingAndGlyphs">SG678-20240617T1202</text>
<path d="M1175.8 741.0 H1206.2" stroke="#9467bd" stroke-width="2.3"/>
<path d="M1191.0 733.3 L1198.0 747.9 L1184.0 747.9Z" fill="#9467bd" stroke="#000" stroke-width="1.6" stroke-linejoin="miter"/>
<text x="1216.0" y="745.9" font-size="13.60" text-anchor="start" textLength="163.4" lengthAdjust="spacingAndGlyphs">ng783-20240807T0000</text>
<path d="M1175.8 762.0 H1206.2" stroke="#8c564b" stroke-width="2.3"/>
<path d="M1191.0 754.3 L1198.0 768.9 L1184.0 768.9Z" fill="#8c564b" stroke="#000" stroke-width="1.6" stroke-linejoin="miter"/>
<text x="1216.0" y="766.9" font-size="13.60" text-anchor="start" textLength="163.4" lengthAdjust="spacingAndGlyphs">uvi_01-20241026T1158</text>
</svg></body></html>
